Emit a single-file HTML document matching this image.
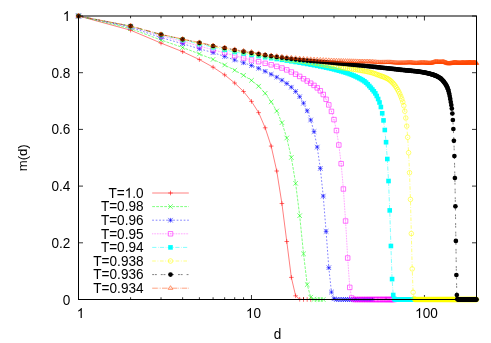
<!DOCTYPE html>
<html><head><meta charset="utf-8"><title>m(d)</title>
<style>html,body{margin:0;padding:0;background:#fff}body{width:491px;height:343px;overflow:hidden}</style>
</head><body>
<svg width="491" height="343" viewBox="0 0 491 343" style="display:block;will-change:transform;font-family:'Liberation Sans',sans-serif;font-size:13.6px">
<rect width="491" height="343" fill="#fff"/>
<g transform="matrix(1 0 0 1.09 0 -27.406)"><text x="62.74" y="304.51">0</text></g>
<g transform="matrix(1 0 0 1.09 0 -22.303)"><text x="51.40" y="247.81">0.2</text></g>
<g transform="matrix(1 0 0 1.09 0 -17.200)"><text x="51.40" y="191.11">0.4</text></g>
<g transform="matrix(1 0 0 1.09 0 -12.097)"><text x="51.40" y="134.41">0.6</text></g>
<g transform="matrix(1 0 0 1.09 0 -6.994)"><text x="51.40" y="77.71">0.8</text></g>
<g transform="matrix(1 0 0 1.09 0 -1.891)"><path d="M67.81 21.01L66.61 21.01L66.61 13.81Q66.18 14.20 65.48 14.59Q64.78 14.98 64.22 15.17L64.22 14.08Q65.22 13.63 65.97 13.00Q66.72 12.37 67.03 11.77L67.81 11.77z" fill="#000"/></g>
<g transform="matrix(1 0 0 1.09 0 -28.620)"><path d="M81.79 318.00L80.59 318.00L80.59 310.80Q80.16 311.19 79.46 311.58Q78.76 311.97 78.20 312.16L78.20 311.07Q79.20 310.63 79.95 309.99Q80.70 309.36 81.02 308.76L81.79 308.76z" fill="#000"/></g>
<g transform="matrix(1 0 0 1.09 0 -28.620)"><path d="M250.97 318.00L249.78 318.00L249.78 310.80Q249.34 311.19 248.64 311.58Q247.94 311.97 247.39 312.16L247.39 311.07Q248.39 310.63 249.14 309.99Q249.89 309.36 250.20 308.76L250.97 308.76z" fill="#000"/><text x="253.47" y="318.00">0</text></g>
<g transform="matrix(1 0 0 1.09 0 -28.620)"><path d="M420.16 318.00L418.96 318.00L418.96 310.80Q418.53 311.19 417.83 311.58Q417.13 311.97 416.57 312.16L416.57 311.07Q417.57 310.63 418.32 309.99Q419.07 309.36 419.39 308.76L420.16 308.76z" fill="#000"/><text x="422.65" y="318.00">00</text></g>
<g transform="matrix(1 0 0 1.09 0 -30.537)"><text x="273.72" y="339.30">d</text></g>
<text transform="translate(27.0 157.75) rotate(-90) scale(0.965 1.0)" text-anchor="middle">m(d)</text>
<path d="M78.5 299.50h4.5M476.5 299.50h-4.5M78.5 242.80h4.5M476.5 242.80h-4.5M78.5 186.10h4.5M476.5 186.10h-4.5M78.5 129.40h4.5M476.5 129.40h-4.5M78.5 72.70h4.5M476.5 72.70h-4.5M78.5 16.00h4.5M476.5 16.00h-4.5M78.50 299.5v-4.5M78.50 16.0v4.5M130.57 299.5v-2.25M130.57 16.0v2.25M161.03 299.5v-2.25M161.03 16.0v2.25M182.64 299.5v-2.25M182.64 16.0v2.25M199.40 299.5v-2.25M199.40 16.0v2.25M213.09 299.5v-2.25M213.09 16.0v2.25M224.67 299.5v-2.25M224.67 16.0v2.25M234.70 299.5v-2.25M234.70 16.0v2.25M243.55 299.5v-2.25M243.55 16.0v2.25M251.47 299.5v-4.5M251.47 16.0v4.5M303.53 299.5v-2.25M303.53 16.0v2.25M333.99 299.5v-2.25M333.99 16.0v2.25M355.60 299.5v-2.25M355.60 16.0v2.25M372.36 299.5v-2.25M372.36 16.0v2.25M386.06 299.5v-2.25M386.06 16.0v2.25M397.64 299.5v-2.25M397.64 16.0v2.25M407.67 299.5v-2.25M407.67 16.0v2.25M416.52 299.5v-2.25M416.52 16.0v2.25M424.43 299.5v-4.5M424.43 16.0v4.5M476.50 299.5v-2.25M476.50 16.0v2.25" stroke="#000" stroke-width="0.8" fill="none"/>
<g>
<path d="M78.50 16.00L130.57 30.20L161.03 43.10L182.64 51.70L199.40 59.60L213.09 67.20L224.67 74.90L234.70 83.00L243.55 91.50L251.47 101.40L258.63 112.60L265.16 127.80L271.17 146.10L276.74 171.00L281.92 203.50L286.77 241.50L291.33 277.40L295.62 295.80L299.68 299.30L303.53 299.50L307.20 299.50L310.69 299.50" stroke="#ff0000" stroke-width="0.5" fill="none"/>
<path d="M152.2 193.00H188.8" stroke="#ff0000" stroke-width="0.5" fill="none"/>
<path d="M76.20 16.00H80.80M78.50 13.70V18.30" stroke="#ff0000" stroke-width="0.55" fill="none"/>
<path d="M128.27 30.20H132.87M130.57 27.90V32.50" stroke="#ff0000" stroke-width="0.55" fill="none"/>
<path d="M158.73 43.10H163.33M161.03 40.80V45.40" stroke="#ff0000" stroke-width="0.55" fill="none"/>
<path d="M180.34 51.70H184.94M182.64 49.40V54.00" stroke="#ff0000" stroke-width="0.55" fill="none"/>
<path d="M197.10 59.60H201.70M199.40 57.30V61.90" stroke="#ff0000" stroke-width="0.55" fill="none"/>
<path d="M210.79 67.20H215.39M213.09 64.90V69.50" stroke="#ff0000" stroke-width="0.55" fill="none"/>
<path d="M222.37 74.90H226.97M224.67 72.60V77.20" stroke="#ff0000" stroke-width="0.55" fill="none"/>
<path d="M232.40 83.00H237.00M234.70 80.70V85.30" stroke="#ff0000" stroke-width="0.55" fill="none"/>
<path d="M241.25 91.50H245.85M243.55 89.20V93.80" stroke="#ff0000" stroke-width="0.55" fill="none"/>
<path d="M249.17 101.40H253.77M251.47 99.10V103.70" stroke="#ff0000" stroke-width="0.55" fill="none"/>
<path d="M256.33 112.60H260.93M258.63 110.30V114.90" stroke="#ff0000" stroke-width="0.55" fill="none"/>
<path d="M262.86 127.80H267.46M265.16 125.50V130.10" stroke="#ff0000" stroke-width="0.55" fill="none"/>
<path d="M268.87 146.10H273.47M271.17 143.80V148.40" stroke="#ff0000" stroke-width="0.55" fill="none"/>
<path d="M274.44 171.00H279.04M276.74 168.70V173.30" stroke="#ff0000" stroke-width="0.55" fill="none"/>
<path d="M279.62 203.50H284.22M281.92 201.20V205.80" stroke="#ff0000" stroke-width="0.55" fill="none"/>
<path d="M284.47 241.50H289.07M286.77 239.20V243.80" stroke="#ff0000" stroke-width="0.55" fill="none"/>
<path d="M289.03 277.40H293.63M291.33 275.10V279.70" stroke="#ff0000" stroke-width="0.55" fill="none"/>
<path d="M293.32 295.80H297.92M295.62 293.50V298.10" stroke="#ff0000" stroke-width="0.55" fill="none"/>
<path d="M297.38 299.30H301.98M299.68 297.00V301.60" stroke="#ff0000" stroke-width="0.55" fill="none"/>
<path d="M301.23 299.50H305.83M303.53 297.20V301.80" stroke="#ff0000" stroke-width="0.55" fill="none"/>
<path d="M304.90 299.50H309.50M307.20 297.20V301.80" stroke="#ff0000" stroke-width="0.55" fill="none"/>
<path d="M308.39 299.50H312.99M310.69 297.20V301.80" stroke="#ff0000" stroke-width="0.55" fill="none"/>
<path d="M168.20 193.00H172.80M170.50 190.70V195.30" stroke="#ff0000" stroke-width="0.55" fill="none"/>
<g transform="matrix(1 0 0 1.09 0 -17.803)"><text x="108.44" y="197.81">T=</text><path d="M129.76 197.81L128.57 197.81L128.57 190.61Q128.14 191.00 127.44 191.39Q126.73 191.78 126.18 191.97L126.18 190.88Q127.18 190.43 127.93 189.80Q128.68 189.17 128.99 188.57L129.76 188.57z" fill="#000"/><text x="132.26" y="197.81">.0</text></g>
</g>
<g>
<path d="M78.50 16.00L130.57 28.60L161.03 40.00L182.64 47.50L199.40 53.90L213.09 59.40L224.67 65.00L234.70 70.20L243.55 75.30L251.47 80.40L258.63 86.20L265.16 93.30L271.17 101.80L276.74 111.00L281.92 122.70L286.77 138.00L291.33 157.50L295.62 183.30L299.68 215.70L303.53 253.80L307.20 284.60L310.69 297.20L314.03 299.40L317.23 299.50L320.30 299.50L323.24 299.50" stroke="#00ff00" stroke-width="0.5" fill="none" stroke-dasharray="2.8 1.2"/>
<path d="M152.2 206.60H188.8" stroke="#00ff00" stroke-width="0.5" fill="none" stroke-dasharray="2.8 1.2"/>
<path d="M76.20 13.70L80.80 18.30M76.20 18.30L80.80 13.70" stroke="#00ff00" stroke-width="0.55" fill="none"/>
<path d="M128.27 26.30L132.87 30.90M128.27 30.90L132.87 26.30" stroke="#00ff00" stroke-width="0.55" fill="none"/>
<path d="M158.73 37.70L163.33 42.30M158.73 42.30L163.33 37.70" stroke="#00ff00" stroke-width="0.55" fill="none"/>
<path d="M180.34 45.20L184.94 49.80M180.34 49.80L184.94 45.20" stroke="#00ff00" stroke-width="0.55" fill="none"/>
<path d="M197.10 51.60L201.70 56.20M197.10 56.20L201.70 51.60" stroke="#00ff00" stroke-width="0.55" fill="none"/>
<path d="M210.79 57.10L215.39 61.70M210.79 61.70L215.39 57.10" stroke="#00ff00" stroke-width="0.55" fill="none"/>
<path d="M222.37 62.70L226.97 67.30M222.37 67.30L226.97 62.70" stroke="#00ff00" stroke-width="0.55" fill="none"/>
<path d="M232.40 67.90L237.00 72.50M232.40 72.50L237.00 67.90" stroke="#00ff00" stroke-width="0.55" fill="none"/>
<path d="M241.25 73.00L245.85 77.60M241.25 77.60L245.85 73.00" stroke="#00ff00" stroke-width="0.55" fill="none"/>
<path d="M249.17 78.10L253.77 82.70M249.17 82.70L253.77 78.10" stroke="#00ff00" stroke-width="0.55" fill="none"/>
<path d="M256.33 83.90L260.93 88.50M256.33 88.50L260.93 83.90" stroke="#00ff00" stroke-width="0.55" fill="none"/>
<path d="M262.86 91.00L267.46 95.60M262.86 95.60L267.46 91.00" stroke="#00ff00" stroke-width="0.55" fill="none"/>
<path d="M268.87 99.50L273.47 104.10M268.87 104.10L273.47 99.50" stroke="#00ff00" stroke-width="0.55" fill="none"/>
<path d="M274.44 108.70L279.04 113.30M274.44 113.30L279.04 108.70" stroke="#00ff00" stroke-width="0.55" fill="none"/>
<path d="M279.62 120.40L284.22 125.00M279.62 125.00L284.22 120.40" stroke="#00ff00" stroke-width="0.55" fill="none"/>
<path d="M284.47 135.70L289.07 140.30M284.47 140.30L289.07 135.70" stroke="#00ff00" stroke-width="0.55" fill="none"/>
<path d="M289.03 155.20L293.63 159.80M289.03 159.80L293.63 155.20" stroke="#00ff00" stroke-width="0.55" fill="none"/>
<path d="M293.32 181.00L297.92 185.60M293.32 185.60L297.92 181.00" stroke="#00ff00" stroke-width="0.55" fill="none"/>
<path d="M297.38 213.40L301.98 218.00M297.38 218.00L301.98 213.40" stroke="#00ff00" stroke-width="0.55" fill="none"/>
<path d="M301.23 251.50L305.83 256.10M301.23 256.10L305.83 251.50" stroke="#00ff00" stroke-width="0.55" fill="none"/>
<path d="M304.90 282.30L309.50 286.90M304.90 286.90L309.50 282.30" stroke="#00ff00" stroke-width="0.55" fill="none"/>
<path d="M308.39 294.90L312.99 299.50M308.39 299.50L312.99 294.90" stroke="#00ff00" stroke-width="0.55" fill="none"/>
<path d="M311.73 297.10L316.33 301.70M311.73 301.70L316.33 297.10" stroke="#00ff00" stroke-width="0.55" fill="none"/>
<path d="M314.93 297.20L319.53 301.80M314.93 301.80L319.53 297.20" stroke="#00ff00" stroke-width="0.55" fill="none"/>
<path d="M318.00 297.20L322.60 301.80M318.00 301.80L322.60 297.20" stroke="#00ff00" stroke-width="0.55" fill="none"/>
<path d="M320.94 297.20L325.54 301.80M320.94 301.80L325.54 297.20" stroke="#00ff00" stroke-width="0.55" fill="none"/>
<path d="M168.20 204.30L172.80 208.90M168.20 208.90L172.80 204.30" stroke="#00ff00" stroke-width="0.55" fill="none"/>
<g transform="matrix(1 0 0 1.09 0 -19.027)"><text x="100.88" y="211.41">T=0.98</text></g>
</g>
<g>
<path d="M78.50 16.00L130.57 27.30L161.03 37.60L182.64 43.70L199.40 48.80L213.09 52.60L224.67 56.50L234.70 60.00L243.55 62.80L251.47 65.50L258.63 68.30L265.16 71.30L271.17 74.30L276.74 77.20L281.92 80.20L286.77 83.50L291.33 87.20L295.62 91.50L299.68 96.70L303.53 103.20L307.20 110.80L310.69 120.00L314.03 131.60L317.23 147.10L320.30 168.40L323.24 196.10L326.08 231.40L328.81 267.70L331.45 292.10L333.99 298.80L336.45 299.50L338.84 299.50L341.15 299.50L343.39 299.50L345.57 299.50L347.69 299.50L349.75 299.50L351.75 299.50L353.70 299.50L355.60 299.50L357.46 299.50L359.27 299.50L361.03 299.50L362.76 299.50L364.45 299.50L366.10 299.50L367.72 299.50L369.30 299.50L370.85 299.50L372.36 299.50" stroke="#0000ff" stroke-width="0.5" fill="none" stroke-dasharray="1.7 1.8"/>
<path d="M152.2 220.20H188.8" stroke="#0000ff" stroke-width="0.5" fill="none" stroke-dasharray="1.7 1.8"/>
<path d="M76.20 16.00H80.80M78.50 13.70V18.30M76.20 13.70L80.80 18.30M76.20 18.30L80.80 13.70" stroke="#0000ff" stroke-width="0.55" fill="none"/>
<path d="M128.27 27.30H132.87M130.57 25.00V29.60M128.27 25.00L132.87 29.60M128.27 29.60L132.87 25.00" stroke="#0000ff" stroke-width="0.55" fill="none"/>
<path d="M158.73 37.60H163.33M161.03 35.30V39.90M158.73 35.30L163.33 39.90M158.73 39.90L163.33 35.30" stroke="#0000ff" stroke-width="0.55" fill="none"/>
<path d="M180.34 43.70H184.94M182.64 41.40V46.00M180.34 41.40L184.94 46.00M180.34 46.00L184.94 41.40" stroke="#0000ff" stroke-width="0.55" fill="none"/>
<path d="M197.10 48.80H201.70M199.40 46.50V51.10M197.10 46.50L201.70 51.10M197.10 51.10L201.70 46.50" stroke="#0000ff" stroke-width="0.55" fill="none"/>
<path d="M210.79 52.60H215.39M213.09 50.30V54.90M210.79 50.30L215.39 54.90M210.79 54.90L215.39 50.30" stroke="#0000ff" stroke-width="0.55" fill="none"/>
<path d="M222.37 56.50H226.97M224.67 54.20V58.80M222.37 54.20L226.97 58.80M222.37 58.80L226.97 54.20" stroke="#0000ff" stroke-width="0.55" fill="none"/>
<path d="M232.40 60.00H237.00M234.70 57.70V62.30M232.40 57.70L237.00 62.30M232.40 62.30L237.00 57.70" stroke="#0000ff" stroke-width="0.55" fill="none"/>
<path d="M241.25 62.80H245.85M243.55 60.50V65.10M241.25 60.50L245.85 65.10M241.25 65.10L245.85 60.50" stroke="#0000ff" stroke-width="0.55" fill="none"/>
<path d="M249.17 65.50H253.77M251.47 63.20V67.80M249.17 63.20L253.77 67.80M249.17 67.80L253.77 63.20" stroke="#0000ff" stroke-width="0.55" fill="none"/>
<path d="M256.33 68.30H260.93M258.63 66.00V70.60M256.33 66.00L260.93 70.60M256.33 70.60L260.93 66.00" stroke="#0000ff" stroke-width="0.55" fill="none"/>
<path d="M262.86 71.30H267.46M265.16 69.00V73.60M262.86 69.00L267.46 73.60M262.86 73.60L267.46 69.00" stroke="#0000ff" stroke-width="0.55" fill="none"/>
<path d="M268.87 74.30H273.47M271.17 72.00V76.60M268.87 72.00L273.47 76.60M268.87 76.60L273.47 72.00" stroke="#0000ff" stroke-width="0.55" fill="none"/>
<path d="M274.44 77.20H279.04M276.74 74.90V79.50M274.44 74.90L279.04 79.50M274.44 79.50L279.04 74.90" stroke="#0000ff" stroke-width="0.55" fill="none"/>
<path d="M279.62 80.20H284.22M281.92 77.90V82.50M279.62 77.90L284.22 82.50M279.62 82.50L284.22 77.90" stroke="#0000ff" stroke-width="0.55" fill="none"/>
<path d="M284.47 83.50H289.07M286.77 81.20V85.80M284.47 81.20L289.07 85.80M284.47 85.80L289.07 81.20" stroke="#0000ff" stroke-width="0.55" fill="none"/>
<path d="M289.03 87.20H293.63M291.33 84.90V89.50M289.03 84.90L293.63 89.50M289.03 89.50L293.63 84.90" stroke="#0000ff" stroke-width="0.55" fill="none"/>
<path d="M293.32 91.50H297.92M295.62 89.20V93.80M293.32 89.20L297.92 93.80M293.32 93.80L297.92 89.20" stroke="#0000ff" stroke-width="0.55" fill="none"/>
<path d="M297.38 96.70H301.98M299.68 94.40V99.00M297.38 94.40L301.98 99.00M297.38 99.00L301.98 94.40" stroke="#0000ff" stroke-width="0.55" fill="none"/>
<path d="M301.23 103.20H305.83M303.53 100.90V105.50M301.23 100.90L305.83 105.50M301.23 105.50L305.83 100.90" stroke="#0000ff" stroke-width="0.55" fill="none"/>
<path d="M304.90 110.80H309.50M307.20 108.50V113.10M304.90 108.50L309.50 113.10M304.90 113.10L309.50 108.50" stroke="#0000ff" stroke-width="0.55" fill="none"/>
<path d="M308.39 120.00H312.99M310.69 117.70V122.30M308.39 117.70L312.99 122.30M308.39 122.30L312.99 117.70" stroke="#0000ff" stroke-width="0.55" fill="none"/>
<path d="M311.73 131.60H316.33M314.03 129.30V133.90M311.73 129.30L316.33 133.90M311.73 133.90L316.33 129.30" stroke="#0000ff" stroke-width="0.55" fill="none"/>
<path d="M314.93 147.10H319.53M317.23 144.80V149.40M314.93 144.80L319.53 149.40M314.93 149.40L319.53 144.80" stroke="#0000ff" stroke-width="0.55" fill="none"/>
<path d="M318.00 168.40H322.60M320.30 166.10V170.70M318.00 166.10L322.60 170.70M318.00 170.70L322.60 166.10" stroke="#0000ff" stroke-width="0.55" fill="none"/>
<path d="M320.94 196.10H325.54M323.24 193.80V198.40M320.94 193.80L325.54 198.40M320.94 198.40L325.54 193.80" stroke="#0000ff" stroke-width="0.55" fill="none"/>
<path d="M323.78 231.40H328.38M326.08 229.10V233.70M323.78 229.10L328.38 233.70M323.78 233.70L328.38 229.10" stroke="#0000ff" stroke-width="0.55" fill="none"/>
<path d="M326.51 267.70H331.11M328.81 265.40V270.00M326.51 265.40L331.11 270.00M326.51 270.00L331.11 265.40" stroke="#0000ff" stroke-width="0.55" fill="none"/>
<path d="M329.15 292.10H333.75M331.45 289.80V294.40M329.15 289.80L333.75 294.40M329.15 294.40L333.75 289.80" stroke="#0000ff" stroke-width="0.55" fill="none"/>
<path d="M331.69 298.80H336.29M333.99 296.50V301.10M331.69 296.50L336.29 301.10M331.69 301.10L336.29 296.50" stroke="#0000ff" stroke-width="0.55" fill="none"/>
<path d="M334.15 299.50H338.75M336.45 297.20V301.80M334.15 297.20L338.75 301.80M334.15 301.80L338.75 297.20" stroke="#0000ff" stroke-width="0.55" fill="none"/>
<path d="M336.54 299.50H341.14M338.84 297.20V301.80M336.54 297.20L341.14 301.80M336.54 301.80L341.14 297.20" stroke="#0000ff" stroke-width="0.55" fill="none"/>
<path d="M338.85 299.50H343.45M341.15 297.20V301.80M338.85 297.20L343.45 301.80M338.85 301.80L343.45 297.20" stroke="#0000ff" stroke-width="0.55" fill="none"/>
<path d="M341.09 299.50H345.69M343.39 297.20V301.80M341.09 297.20L345.69 301.80M341.09 301.80L345.69 297.20" stroke="#0000ff" stroke-width="0.55" fill="none"/>
<path d="M343.27 299.50H347.87M345.57 297.20V301.80M343.27 297.20L347.87 301.80M343.27 301.80L347.87 297.20" stroke="#0000ff" stroke-width="0.55" fill="none"/>
<path d="M345.39 299.50H349.99M347.69 297.20V301.80M345.39 297.20L349.99 301.80M345.39 301.80L349.99 297.20" stroke="#0000ff" stroke-width="0.55" fill="none"/>
<path d="M347.45 299.50H352.05M349.75 297.20V301.80M347.45 297.20L352.05 301.80M347.45 301.80L352.05 297.20" stroke="#0000ff" stroke-width="0.55" fill="none"/>
<path d="M349.45 299.50H354.05M351.75 297.20V301.80M349.45 297.20L354.05 301.80M349.45 301.80L354.05 297.20" stroke="#0000ff" stroke-width="0.55" fill="none"/>
<path d="M351.40 299.50H356.00M353.70 297.20V301.80M351.40 297.20L356.00 301.80M351.40 301.80L356.00 297.20" stroke="#0000ff" stroke-width="0.55" fill="none"/>
<path d="M353.30 299.50H357.90M355.60 297.20V301.80M353.30 297.20L357.90 301.80M353.30 301.80L357.90 297.20" stroke="#0000ff" stroke-width="0.55" fill="none"/>
<path d="M355.16 299.50H359.76M357.46 297.20V301.80M355.16 297.20L359.76 301.80M355.16 301.80L359.76 297.20" stroke="#0000ff" stroke-width="0.55" fill="none"/>
<path d="M356.97 299.50H361.57M359.27 297.20V301.80M356.97 297.20L361.57 301.80M356.97 301.80L361.57 297.20" stroke="#0000ff" stroke-width="0.55" fill="none"/>
<path d="M358.73 299.50H363.33M361.03 297.20V301.80M358.73 297.20L363.33 301.80M358.73 301.80L363.33 297.20" stroke="#0000ff" stroke-width="0.55" fill="none"/>
<path d="M360.46 299.50H365.06M362.76 297.20V301.80M360.46 297.20L365.06 301.80M360.46 301.80L365.06 297.20" stroke="#0000ff" stroke-width="0.55" fill="none"/>
<path d="M362.15 299.50H366.75M364.45 297.20V301.80M362.15 297.20L366.75 301.80M362.15 301.80L366.75 297.20" stroke="#0000ff" stroke-width="0.55" fill="none"/>
<path d="M363.80 299.50H368.40M366.10 297.20V301.80M363.80 297.20L368.40 301.80M363.80 301.80L368.40 297.20" stroke="#0000ff" stroke-width="0.55" fill="none"/>
<path d="M365.42 299.50H370.02M367.72 297.20V301.80M365.42 297.20L370.02 301.80M365.42 301.80L370.02 297.20" stroke="#0000ff" stroke-width="0.55" fill="none"/>
<path d="M367.00 299.50H371.60M369.30 297.20V301.80M367.00 297.20L371.60 301.80M367.00 301.80L371.60 297.20" stroke="#0000ff" stroke-width="0.55" fill="none"/>
<path d="M368.55 299.50H373.15M370.85 297.20V301.80M368.55 297.20L373.15 301.80M368.55 301.80L373.15 297.20" stroke="#0000ff" stroke-width="0.55" fill="none"/>
<path d="M370.06 299.50H374.66M372.36 297.20V301.80M370.06 297.20L374.66 301.80M370.06 301.80L374.66 297.20" stroke="#0000ff" stroke-width="0.55" fill="none"/>
<path d="M168.20 220.20H172.80M170.50 217.90V222.50M168.20 217.90L172.80 222.50M168.20 222.50L172.80 217.90" stroke="#0000ff" stroke-width="0.55" fill="none"/>
<g transform="matrix(1 0 0 1.09 0 -20.251)"><text x="100.88" y="225.01">T=0.96</text></g>
</g>
<g>
<path d="M78.50 16.00L130.57 26.50L161.03 35.80L182.64 41.50L199.40 46.00L213.09 49.80L224.67 52.90L234.70 55.70L243.55 58.00L251.47 60.00L258.63 61.70L265.16 63.30L271.17 64.80L276.74 66.40L281.92 68.00L286.77 69.90L291.33 72.00L295.62 74.20L299.68 76.40L303.53 78.80L307.20 81.00L310.69 83.20L314.03 85.40L317.23 87.90L320.30 90.80L323.24 94.50L326.08 99.30L328.81 104.90L331.45 111.40L333.99 119.60L336.45 130.50L338.84 145.00L341.15 163.70L343.39 189.00L345.57 221.00L347.69 258.00L349.75 287.40L351.75 298.00L353.70 299.50L355.60 299.50L357.46 299.50L359.27 299.50L361.03 299.50L362.76 299.50L364.45 299.50L366.10 299.50L367.72 299.50L369.30 299.50L370.85 299.50L372.36 299.50L373.85 299.50L375.31 299.50L376.74 299.50L378.15 299.50L379.52 299.50L380.88 299.50L382.21 299.50L383.51 299.50L384.80 299.50L386.06 299.50L387.30 299.50L388.52 299.50L389.72 299.50L390.91 299.50L392.07 299.50L393.22 299.50L394.35 299.50" stroke="#ff00ff" stroke-width="0.5" fill="none" stroke-dasharray="0.7 0.9"/>
<path d="M152.2 233.80H188.8" stroke="#ff00ff" stroke-width="0.5" fill="none" stroke-dasharray="0.7 0.9"/>
<path d="M76.25 13.75h4.50v4.50h-4.50zM78.20 16.00h0.6" stroke="#ff00ff" stroke-width="0.55" fill="none"/>
<path d="M128.32 24.25h4.50v4.50h-4.50zM130.27 26.50h0.6" stroke="#ff00ff" stroke-width="0.55" fill="none"/>
<path d="M158.78 33.55h4.50v4.50h-4.50zM160.73 35.80h0.6" stroke="#ff00ff" stroke-width="0.55" fill="none"/>
<path d="M180.39 39.25h4.50v4.50h-4.50zM182.34 41.50h0.6" stroke="#ff00ff" stroke-width="0.55" fill="none"/>
<path d="M197.15 43.75h4.50v4.50h-4.50zM199.10 46.00h0.6" stroke="#ff00ff" stroke-width="0.55" fill="none"/>
<path d="M210.84 47.55h4.50v4.50h-4.50zM212.79 49.80h0.6" stroke="#ff00ff" stroke-width="0.55" fill="none"/>
<path d="M222.42 50.65h4.50v4.50h-4.50zM224.37 52.90h0.6" stroke="#ff00ff" stroke-width="0.55" fill="none"/>
<path d="M232.45 53.45h4.50v4.50h-4.50zM234.40 55.70h0.6" stroke="#ff00ff" stroke-width="0.55" fill="none"/>
<path d="M241.30 55.75h4.50v4.50h-4.50zM243.25 58.00h0.6" stroke="#ff00ff" stroke-width="0.55" fill="none"/>
<path d="M249.22 57.75h4.50v4.50h-4.50zM251.17 60.00h0.6" stroke="#ff00ff" stroke-width="0.55" fill="none"/>
<path d="M256.38 59.45h4.50v4.50h-4.50zM258.33 61.70h0.6" stroke="#ff00ff" stroke-width="0.55" fill="none"/>
<path d="M262.91 61.05h4.50v4.50h-4.50zM264.86 63.30h0.6" stroke="#ff00ff" stroke-width="0.55" fill="none"/>
<path d="M268.92 62.55h4.50v4.50h-4.50zM270.87 64.80h0.6" stroke="#ff00ff" stroke-width="0.55" fill="none"/>
<path d="M274.49 64.15h4.50v4.50h-4.50zM276.44 66.40h0.6" stroke="#ff00ff" stroke-width="0.55" fill="none"/>
<path d="M279.67 65.75h4.50v4.50h-4.50zM281.62 68.00h0.6" stroke="#ff00ff" stroke-width="0.55" fill="none"/>
<path d="M284.52 67.65h4.50v4.50h-4.50zM286.47 69.90h0.6" stroke="#ff00ff" stroke-width="0.55" fill="none"/>
<path d="M289.08 69.75h4.50v4.50h-4.50zM291.03 72.00h0.6" stroke="#ff00ff" stroke-width="0.55" fill="none"/>
<path d="M293.37 71.95h4.50v4.50h-4.50zM295.32 74.20h0.6" stroke="#ff00ff" stroke-width="0.55" fill="none"/>
<path d="M297.43 74.15h4.50v4.50h-4.50zM299.38 76.40h0.6" stroke="#ff00ff" stroke-width="0.55" fill="none"/>
<path d="M301.28 76.55h4.50v4.50h-4.50zM303.23 78.80h0.6" stroke="#ff00ff" stroke-width="0.55" fill="none"/>
<path d="M304.95 78.75h4.50v4.50h-4.50zM306.90 81.00h0.6" stroke="#ff00ff" stroke-width="0.55" fill="none"/>
<path d="M308.44 80.95h4.50v4.50h-4.50zM310.39 83.20h0.6" stroke="#ff00ff" stroke-width="0.55" fill="none"/>
<path d="M311.78 83.15h4.50v4.50h-4.50zM313.73 85.40h0.6" stroke="#ff00ff" stroke-width="0.55" fill="none"/>
<path d="M314.98 85.65h4.50v4.50h-4.50zM316.93 87.90h0.6" stroke="#ff00ff" stroke-width="0.55" fill="none"/>
<path d="M318.05 88.55h4.50v4.50h-4.50zM320.00 90.80h0.6" stroke="#ff00ff" stroke-width="0.55" fill="none"/>
<path d="M320.99 92.25h4.50v4.50h-4.50zM322.94 94.50h0.6" stroke="#ff00ff" stroke-width="0.55" fill="none"/>
<path d="M323.83 97.05h4.50v4.50h-4.50zM325.78 99.30h0.6" stroke="#ff00ff" stroke-width="0.55" fill="none"/>
<path d="M326.56 102.65h4.50v4.50h-4.50zM328.51 104.90h0.6" stroke="#ff00ff" stroke-width="0.55" fill="none"/>
<path d="M329.20 109.15h4.50v4.50h-4.50zM331.15 111.40h0.6" stroke="#ff00ff" stroke-width="0.55" fill="none"/>
<path d="M331.74 117.35h4.50v4.50h-4.50zM333.69 119.60h0.6" stroke="#ff00ff" stroke-width="0.55" fill="none"/>
<path d="M334.20 128.25h4.50v4.50h-4.50zM336.15 130.50h0.6" stroke="#ff00ff" stroke-width="0.55" fill="none"/>
<path d="M336.59 142.75h4.50v4.50h-4.50zM338.54 145.00h0.6" stroke="#ff00ff" stroke-width="0.55" fill="none"/>
<path d="M338.90 161.45h4.50v4.50h-4.50zM340.85 163.70h0.6" stroke="#ff00ff" stroke-width="0.55" fill="none"/>
<path d="M341.14 186.75h4.50v4.50h-4.50zM343.09 189.00h0.6" stroke="#ff00ff" stroke-width="0.55" fill="none"/>
<path d="M343.32 218.75h4.50v4.50h-4.50zM345.27 221.00h0.6" stroke="#ff00ff" stroke-width="0.55" fill="none"/>
<path d="M345.44 255.75h4.50v4.50h-4.50zM347.39 258.00h0.6" stroke="#ff00ff" stroke-width="0.55" fill="none"/>
<path d="M347.50 285.15h4.50v4.50h-4.50zM349.45 287.40h0.6" stroke="#ff00ff" stroke-width="0.55" fill="none"/>
<path d="M349.50 295.75h4.50v4.50h-4.50zM351.45 298.00h0.6" stroke="#ff00ff" stroke-width="0.55" fill="none"/>
<path d="M351.45 297.25h4.50v4.50h-4.50zM353.40 299.50h0.6" stroke="#ff00ff" stroke-width="0.55" fill="none"/>
<path d="M353.35 297.25h4.50v4.50h-4.50zM355.30 299.50h0.6" stroke="#ff00ff" stroke-width="0.55" fill="none"/>
<path d="M355.21 297.25h4.50v4.50h-4.50zM357.16 299.50h0.6" stroke="#ff00ff" stroke-width="0.55" fill="none"/>
<path d="M357.02 297.25h4.50v4.50h-4.50zM358.97 299.50h0.6" stroke="#ff00ff" stroke-width="0.55" fill="none"/>
<path d="M358.78 297.25h4.50v4.50h-4.50zM360.73 299.50h0.6" stroke="#ff00ff" stroke-width="0.55" fill="none"/>
<path d="M360.51 297.25h4.50v4.50h-4.50zM362.46 299.50h0.6" stroke="#ff00ff" stroke-width="0.55" fill="none"/>
<path d="M362.20 297.25h4.50v4.50h-4.50zM364.15 299.50h0.6" stroke="#ff00ff" stroke-width="0.55" fill="none"/>
<path d="M363.85 297.25h4.50v4.50h-4.50zM365.80 299.50h0.6" stroke="#ff00ff" stroke-width="0.55" fill="none"/>
<path d="M365.47 297.25h4.50v4.50h-4.50zM367.42 299.50h0.6" stroke="#ff00ff" stroke-width="0.55" fill="none"/>
<path d="M367.05 297.25h4.50v4.50h-4.50zM369.00 299.50h0.6" stroke="#ff00ff" stroke-width="0.55" fill="none"/>
<path d="M368.60 297.25h4.50v4.50h-4.50zM370.55 299.50h0.6" stroke="#ff00ff" stroke-width="0.55" fill="none"/>
<path d="M370.11 297.25h4.50v4.50h-4.50zM372.06 299.50h0.6" stroke="#ff00ff" stroke-width="0.55" fill="none"/>
<path d="M371.60 297.25h4.50v4.50h-4.50zM373.55 299.50h0.6" stroke="#ff00ff" stroke-width="0.55" fill="none"/>
<path d="M373.06 297.25h4.50v4.50h-4.50zM375.01 299.50h0.6" stroke="#ff00ff" stroke-width="0.55" fill="none"/>
<path d="M374.49 297.25h4.50v4.50h-4.50zM376.44 299.50h0.6" stroke="#ff00ff" stroke-width="0.55" fill="none"/>
<path d="M375.90 297.25h4.50v4.50h-4.50zM377.85 299.50h0.6" stroke="#ff00ff" stroke-width="0.55" fill="none"/>
<path d="M377.27 297.25h4.50v4.50h-4.50zM379.22 299.50h0.6" stroke="#ff00ff" stroke-width="0.55" fill="none"/>
<path d="M378.63 297.25h4.50v4.50h-4.50zM380.58 299.50h0.6" stroke="#ff00ff" stroke-width="0.55" fill="none"/>
<path d="M379.96 297.25h4.50v4.50h-4.50zM381.91 299.50h0.6" stroke="#ff00ff" stroke-width="0.55" fill="none"/>
<path d="M381.26 297.25h4.50v4.50h-4.50zM383.21 299.50h0.6" stroke="#ff00ff" stroke-width="0.55" fill="none"/>
<path d="M382.55 297.25h4.50v4.50h-4.50zM384.50 299.50h0.6" stroke="#ff00ff" stroke-width="0.55" fill="none"/>
<path d="M383.81 297.25h4.50v4.50h-4.50zM385.76 299.50h0.6" stroke="#ff00ff" stroke-width="0.55" fill="none"/>
<path d="M385.05 297.25h4.50v4.50h-4.50zM387.00 299.50h0.6" stroke="#ff00ff" stroke-width="0.55" fill="none"/>
<path d="M386.27 297.25h4.50v4.50h-4.50zM388.22 299.50h0.6" stroke="#ff00ff" stroke-width="0.55" fill="none"/>
<path d="M387.47 297.25h4.50v4.50h-4.50zM389.42 299.50h0.6" stroke="#ff00ff" stroke-width="0.55" fill="none"/>
<path d="M388.66 297.25h4.50v4.50h-4.50zM390.61 299.50h0.6" stroke="#ff00ff" stroke-width="0.55" fill="none"/>
<path d="M389.82 297.25h4.50v4.50h-4.50zM391.77 299.50h0.6" stroke="#ff00ff" stroke-width="0.55" fill="none"/>
<path d="M390.97 297.25h4.50v4.50h-4.50zM392.92 299.50h0.6" stroke="#ff00ff" stroke-width="0.55" fill="none"/>
<path d="M392.10 297.25h4.50v4.50h-4.50zM394.05 299.50h0.6" stroke="#ff00ff" stroke-width="0.55" fill="none"/>
<path d="M168.25 231.55h4.50v4.50h-4.50zM170.20 233.80h0.6" stroke="#ff00ff" stroke-width="0.55" fill="none"/>
<g transform="matrix(1 0 0 1.09 0 -21.475)"><text x="100.88" y="238.61">T=0.95</text></g>
</g>
<g>
<path d="M78.50 16.00L130.57 26.30L161.03 35.00L182.64 40.00L199.40 44.00L213.09 47.30L224.67 49.80L234.70 52.00L243.55 53.50L251.47 54.80L258.63 56.06L265.16 57.20L271.17 58.15L276.74 59.00L281.92 59.80L286.77 60.57L291.33 61.30L295.62 61.99L299.68 62.65L303.53 63.30L307.20 63.94L310.69 64.57L314.03 65.19L317.23 65.80L320.30 66.40L323.24 66.98L326.08 67.57L328.81 68.16L331.45 68.77L333.99 69.39L336.45 70.03L338.84 70.68L341.15 71.32L343.39 71.97L345.57 72.63L347.69 73.31L349.75 74.03L351.75 74.79L353.70 75.59L355.60 76.43L357.46 77.31L359.27 78.23L361.03 79.17L362.76 80.17L364.45 81.30L366.10 82.64L367.72 84.27L369.30 86.01L370.85 87.73L372.36 89.49L373.85 91.31L375.31 93.36L376.74 95.99L378.15 99.00L379.52 102.50L380.88 107.00L382.21 113.30L383.51 120.40L384.80 130.00L386.06 142.20L387.30 159.00L388.52 181.00L389.72 210.40L390.91 246.00L392.07 279.10L393.22 295.00L394.35 299.00L395.46 299.50L396.56 299.50L397.64 299.50L398.70 299.50L399.76 299.50L400.79 299.50L401.81 299.50L402.82 299.50L403.82 299.50L404.80 299.50L405.77 299.50L406.73 299.50L407.67 299.50L408.60 299.50L409.52 299.50L410.44 299.50L411.33 299.50L412.22 299.50L413.10 299.50L413.97 299.50L414.83 299.50L415.68 299.50L416.52 299.50L417.35 299.50L418.17 299.50" stroke="#00ffff" stroke-width="0.5" fill="none" stroke-dasharray="4.2 1.6 0.6 1.3"/>
<path d="M152.2 247.40H188.8" stroke="#00ffff" stroke-width="0.5" fill="none" stroke-dasharray="4.2 1.6 0.6 1.3"/>
<rect x="76.20" y="13.70" width="4.60" height="4.60" fill="#00ffff"/>
<rect x="128.27" y="24.00" width="4.60" height="4.60" fill="#00ffff"/>
<rect x="158.73" y="32.70" width="4.60" height="4.60" fill="#00ffff"/>
<rect x="180.34" y="37.70" width="4.60" height="4.60" fill="#00ffff"/>
<rect x="197.10" y="41.70" width="4.60" height="4.60" fill="#00ffff"/>
<rect x="210.79" y="45.00" width="4.60" height="4.60" fill="#00ffff"/>
<rect x="222.37" y="47.50" width="4.60" height="4.60" fill="#00ffff"/>
<rect x="232.40" y="49.70" width="4.60" height="4.60" fill="#00ffff"/>
<rect x="241.25" y="51.20" width="4.60" height="4.60" fill="#00ffff"/>
<rect x="249.17" y="52.50" width="4.60" height="4.60" fill="#00ffff"/>
<rect x="256.33" y="53.76" width="4.60" height="4.60" fill="#00ffff"/>
<rect x="262.86" y="54.90" width="4.60" height="4.60" fill="#00ffff"/>
<rect x="268.87" y="55.85" width="4.60" height="4.60" fill="#00ffff"/>
<rect x="274.44" y="56.70" width="4.60" height="4.60" fill="#00ffff"/>
<rect x="279.62" y="57.50" width="4.60" height="4.60" fill="#00ffff"/>
<rect x="284.47" y="58.27" width="4.60" height="4.60" fill="#00ffff"/>
<rect x="289.03" y="59.00" width="4.60" height="4.60" fill="#00ffff"/>
<rect x="293.32" y="59.69" width="4.60" height="4.60" fill="#00ffff"/>
<rect x="297.38" y="60.35" width="4.60" height="4.60" fill="#00ffff"/>
<rect x="301.23" y="61.00" width="4.60" height="4.60" fill="#00ffff"/>
<rect x="304.90" y="61.64" width="4.60" height="4.60" fill="#00ffff"/>
<rect x="308.39" y="62.27" width="4.60" height="4.60" fill="#00ffff"/>
<rect x="311.73" y="62.89" width="4.60" height="4.60" fill="#00ffff"/>
<rect x="314.93" y="63.50" width="4.60" height="4.60" fill="#00ffff"/>
<rect x="318.00" y="64.10" width="4.60" height="4.60" fill="#00ffff"/>
<rect x="320.94" y="64.68" width="4.60" height="4.60" fill="#00ffff"/>
<rect x="323.78" y="65.27" width="4.60" height="4.60" fill="#00ffff"/>
<rect x="326.51" y="65.86" width="4.60" height="4.60" fill="#00ffff"/>
<rect x="329.15" y="66.47" width="4.60" height="4.60" fill="#00ffff"/>
<rect x="331.69" y="67.09" width="4.60" height="4.60" fill="#00ffff"/>
<rect x="334.15" y="67.73" width="4.60" height="4.60" fill="#00ffff"/>
<rect x="336.54" y="68.38" width="4.60" height="4.60" fill="#00ffff"/>
<rect x="338.85" y="69.02" width="4.60" height="4.60" fill="#00ffff"/>
<rect x="341.09" y="69.67" width="4.60" height="4.60" fill="#00ffff"/>
<rect x="343.27" y="70.33" width="4.60" height="4.60" fill="#00ffff"/>
<rect x="345.39" y="71.01" width="4.60" height="4.60" fill="#00ffff"/>
<rect x="347.45" y="71.73" width="4.60" height="4.60" fill="#00ffff"/>
<rect x="349.45" y="72.49" width="4.60" height="4.60" fill="#00ffff"/>
<rect x="351.40" y="73.29" width="4.60" height="4.60" fill="#00ffff"/>
<rect x="353.30" y="74.13" width="4.60" height="4.60" fill="#00ffff"/>
<rect x="355.16" y="75.01" width="4.60" height="4.60" fill="#00ffff"/>
<rect x="356.97" y="75.93" width="4.60" height="4.60" fill="#00ffff"/>
<rect x="358.73" y="76.87" width="4.60" height="4.60" fill="#00ffff"/>
<rect x="360.46" y="77.87" width="4.60" height="4.60" fill="#00ffff"/>
<rect x="362.15" y="79.00" width="4.60" height="4.60" fill="#00ffff"/>
<rect x="363.80" y="80.34" width="4.60" height="4.60" fill="#00ffff"/>
<rect x="365.42" y="81.97" width="4.60" height="4.60" fill="#00ffff"/>
<rect x="367.00" y="83.71" width="4.60" height="4.60" fill="#00ffff"/>
<rect x="368.55" y="85.43" width="4.60" height="4.60" fill="#00ffff"/>
<rect x="370.06" y="87.19" width="4.60" height="4.60" fill="#00ffff"/>
<rect x="371.55" y="89.01" width="4.60" height="4.60" fill="#00ffff"/>
<rect x="373.01" y="91.06" width="4.60" height="4.60" fill="#00ffff"/>
<rect x="374.44" y="93.69" width="4.60" height="4.60" fill="#00ffff"/>
<rect x="375.85" y="96.70" width="4.60" height="4.60" fill="#00ffff"/>
<rect x="377.22" y="100.20" width="4.60" height="4.60" fill="#00ffff"/>
<rect x="378.58" y="104.70" width="4.60" height="4.60" fill="#00ffff"/>
<rect x="379.91" y="111.00" width="4.60" height="4.60" fill="#00ffff"/>
<rect x="381.21" y="118.10" width="4.60" height="4.60" fill="#00ffff"/>
<rect x="382.50" y="127.70" width="4.60" height="4.60" fill="#00ffff"/>
<rect x="383.76" y="139.90" width="4.60" height="4.60" fill="#00ffff"/>
<rect x="385.00" y="156.70" width="4.60" height="4.60" fill="#00ffff"/>
<rect x="386.22" y="178.70" width="4.60" height="4.60" fill="#00ffff"/>
<rect x="387.42" y="208.10" width="4.60" height="4.60" fill="#00ffff"/>
<rect x="388.61" y="243.70" width="4.60" height="4.60" fill="#00ffff"/>
<rect x="389.77" y="276.80" width="4.60" height="4.60" fill="#00ffff"/>
<rect x="390.92" y="292.70" width="4.60" height="4.60" fill="#00ffff"/>
<rect x="392.05" y="296.70" width="4.60" height="4.60" fill="#00ffff"/>
<rect x="393.16" y="297.20" width="4.60" height="4.60" fill="#00ffff"/>
<rect x="394.26" y="297.20" width="4.60" height="4.60" fill="#00ffff"/>
<rect x="395.34" y="297.20" width="4.60" height="4.60" fill="#00ffff"/>
<rect x="396.40" y="297.20" width="4.60" height="4.60" fill="#00ffff"/>
<rect x="397.46" y="297.20" width="4.60" height="4.60" fill="#00ffff"/>
<rect x="398.49" y="297.20" width="4.60" height="4.60" fill="#00ffff"/>
<rect x="399.51" y="297.20" width="4.60" height="4.60" fill="#00ffff"/>
<rect x="400.52" y="297.20" width="4.60" height="4.60" fill="#00ffff"/>
<rect x="401.52" y="297.20" width="4.60" height="4.60" fill="#00ffff"/>
<rect x="402.50" y="297.20" width="4.60" height="4.60" fill="#00ffff"/>
<rect x="403.47" y="297.20" width="4.60" height="4.60" fill="#00ffff"/>
<rect x="404.43" y="297.20" width="4.60" height="4.60" fill="#00ffff"/>
<rect x="405.37" y="297.20" width="4.60" height="4.60" fill="#00ffff"/>
<rect x="406.30" y="297.20" width="4.60" height="4.60" fill="#00ffff"/>
<rect x="407.22" y="297.20" width="4.60" height="4.60" fill="#00ffff"/>
<rect x="408.14" y="297.20" width="4.60" height="4.60" fill="#00ffff"/>
<rect x="409.03" y="297.20" width="4.60" height="4.60" fill="#00ffff"/>
<rect x="409.92" y="297.20" width="4.60" height="4.60" fill="#00ffff"/>
<rect x="410.80" y="297.20" width="4.60" height="4.60" fill="#00ffff"/>
<rect x="411.67" y="297.20" width="4.60" height="4.60" fill="#00ffff"/>
<rect x="412.53" y="297.20" width="4.60" height="4.60" fill="#00ffff"/>
<rect x="413.38" y="297.20" width="4.60" height="4.60" fill="#00ffff"/>
<rect x="414.22" y="297.20" width="4.60" height="4.60" fill="#00ffff"/>
<rect x="415.05" y="297.20" width="4.60" height="4.60" fill="#00ffff"/>
<rect x="415.87" y="297.20" width="4.60" height="4.60" fill="#00ffff"/>
<rect x="168.20" y="245.10" width="4.60" height="4.60" fill="#00ffff"/>
<g transform="matrix(1 0 0 1.09 0 -22.699)"><text x="100.88" y="252.21">T=0.94</text></g>
</g>
<g>
<path d="M78.50 16.00L130.57 26.20L161.03 34.70L182.64 39.60L199.40 43.20L213.09 46.50L224.67 48.80L234.70 50.80L243.55 52.40L251.47 53.60L258.63 54.86L265.16 56.00L271.17 56.90L276.74 57.69L281.92 58.50L286.77 59.44L291.33 60.18L295.62 60.66L299.68 61.06L303.53 61.50L307.20 62.01L310.69 62.56L314.03 63.13L317.23 63.69L320.30 64.24L323.24 64.77L326.08 65.26L328.81 65.73L331.45 66.16L333.99 66.57L336.45 66.96L338.84 67.33L341.15 67.66L343.39 67.96L345.57 68.24L347.69 68.51L349.75 68.80L351.75 69.09L353.70 69.37L355.60 69.64L357.46 69.92L359.27 70.19L361.03 70.47L362.76 70.76L364.45 71.06L366.10 71.38L367.72 71.71L369.30 72.06L370.85 72.43L372.36 72.88L373.85 73.37L375.31 73.89L376.74 74.42L378.15 74.95L379.52 75.45L380.88 75.93L382.21 76.39L383.51 76.87L384.80 77.40L386.06 77.98L387.30 78.61L388.52 79.31L389.72 80.10L390.91 81.07L392.07 82.20L393.22 83.38L394.35 84.70L395.46 86.22L396.56 87.90L397.64 89.71L398.70 91.70L399.76 93.94L400.79 96.40L401.81 99.03L402.82 102.00L403.82 105.70L404.80 111.20L405.77 118.00L406.73 126.10L407.67 137.30L408.60 152.70L409.52 172.70L410.44 199.40L411.33 233.60L412.22 268.90L413.10 292.30L413.97 298.50L414.83 299.50L415.68 299.50L416.52 299.50L417.35 299.50L418.17 299.50L418.98 299.50L419.78 299.50L420.58 299.50L421.37 299.50L422.14 299.50L422.91 299.50L423.68 299.50L424.43 299.50L425.18 299.50L425.92 299.50L426.65 299.50L427.38 299.50L428.10 299.50L428.81 299.50L429.51 299.50L430.21 299.50L430.91 299.50L431.59 299.50L432.27 299.50L432.95 299.50L433.61 299.50L434.27 299.50L434.93 299.50L435.58 299.50L436.23 299.50L436.87 299.50L437.50 299.50L438.13 299.50L438.75 299.50L439.37 299.50L439.98 299.50L440.59 299.50L441.19 299.50L441.79 299.50L442.39 299.50L442.98 299.50L443.56 299.50L444.14 299.50L444.72 299.50L445.29 299.50L445.85 299.50L446.42 299.50L446.98 299.50L447.53 299.50L448.08 299.50L448.63 299.50L449.17 299.50L449.71 299.50L450.24 299.50L450.77 299.50L451.30 299.50L451.82 299.50L452.34 299.50L452.86 299.50L453.37 299.50L453.88 299.50L454.39 299.50L454.89 299.50L455.39 299.50L455.88 299.50L456.38 299.50L456.87 299.50L457.35 299.50L457.84 299.50L458.32 299.50L458.79 299.50L459.27 299.50L459.74 299.50L460.21 299.50L460.67 299.50L461.13 299.50L461.59 299.50L462.05 299.50L462.50 299.50L462.95 299.50L463.40 299.50L463.85 299.50L464.29 299.50L464.73 299.50L465.17 299.50L465.61 299.50L466.04 299.50L466.47 299.50L466.90 299.50L467.32 299.50L467.75 299.50L468.17 299.50L468.59 299.50L469.00 299.50L469.42 299.50L469.83 299.50L470.24 299.50L470.64 299.50L471.05 299.50L471.45 299.50L471.85 299.50L472.25 299.50L472.65 299.50L473.04 299.50L473.43 299.50L473.82 299.50L474.21 299.50L474.60 299.50L474.98 299.50L475.36 299.50L475.75 299.50L476.12 299.50L476.50 299.50" stroke="#ffff00" stroke-width="0.5" fill="none" stroke-dasharray="3.6 1.7 0.8 1.7"/>
<path d="M152.2 261.00H188.8" stroke="#ffff00" stroke-width="0.5" fill="none" stroke-dasharray="3.6 1.7 0.8 1.7"/>
<rect x="413.33" y="297.05" width="46.41" height="4.9" fill="#ffff00"/>
<circle cx="78.50" cy="16.00" r="2.3" stroke="#ffff00" stroke-width="0.55" fill="none"/><circle cx="78.50" cy="16.00" r="0.25" fill="#ffff00" fill-opacity="0.7"/>
<circle cx="130.57" cy="26.20" r="2.3" stroke="#ffff00" stroke-width="0.55" fill="none"/><circle cx="130.57" cy="26.20" r="0.25" fill="#ffff00" fill-opacity="0.7"/>
<circle cx="161.03" cy="34.70" r="2.3" stroke="#ffff00" stroke-width="0.55" fill="none"/><circle cx="161.03" cy="34.70" r="0.25" fill="#ffff00" fill-opacity="0.7"/>
<circle cx="182.64" cy="39.60" r="2.3" stroke="#ffff00" stroke-width="0.55" fill="none"/><circle cx="182.64" cy="39.60" r="0.25" fill="#ffff00" fill-opacity="0.7"/>
<circle cx="199.40" cy="43.20" r="2.3" stroke="#ffff00" stroke-width="0.55" fill="none"/><circle cx="199.40" cy="43.20" r="0.25" fill="#ffff00" fill-opacity="0.7"/>
<circle cx="213.09" cy="46.50" r="2.3" stroke="#ffff00" stroke-width="0.55" fill="none"/><circle cx="213.09" cy="46.50" r="0.25" fill="#ffff00" fill-opacity="0.7"/>
<circle cx="224.67" cy="48.80" r="2.3" stroke="#ffff00" stroke-width="0.55" fill="none"/><circle cx="224.67" cy="48.80" r="0.25" fill="#ffff00" fill-opacity="0.7"/>
<circle cx="234.70" cy="50.80" r="2.3" stroke="#ffff00" stroke-width="0.55" fill="none"/><circle cx="234.70" cy="50.80" r="0.25" fill="#ffff00" fill-opacity="0.7"/>
<circle cx="243.55" cy="52.40" r="2.3" stroke="#ffff00" stroke-width="0.55" fill="none"/><circle cx="243.55" cy="52.40" r="0.25" fill="#ffff00" fill-opacity="0.7"/>
<circle cx="251.47" cy="53.60" r="2.3" stroke="#ffff00" stroke-width="0.55" fill="none"/><circle cx="251.47" cy="53.60" r="0.25" fill="#ffff00" fill-opacity="0.7"/>
<circle cx="258.63" cy="54.86" r="2.3" stroke="#ffff00" stroke-width="0.55" fill="none"/><circle cx="258.63" cy="54.86" r="0.25" fill="#ffff00" fill-opacity="0.7"/>
<circle cx="265.16" cy="56.00" r="2.3" stroke="#ffff00" stroke-width="0.55" fill="none"/><circle cx="265.16" cy="56.00" r="0.25" fill="#ffff00" fill-opacity="0.7"/>
<circle cx="271.17" cy="56.90" r="2.3" stroke="#ffff00" stroke-width="0.55" fill="none"/><circle cx="271.17" cy="56.90" r="0.25" fill="#ffff00" fill-opacity="0.7"/>
<circle cx="276.74" cy="57.69" r="2.3" stroke="#ffff00" stroke-width="0.55" fill="none"/><circle cx="276.74" cy="57.69" r="0.25" fill="#ffff00" fill-opacity="0.7"/>
<circle cx="281.92" cy="58.50" r="2.3" stroke="#ffff00" stroke-width="0.55" fill="none"/><circle cx="281.92" cy="58.50" r="0.25" fill="#ffff00" fill-opacity="0.7"/>
<circle cx="286.77" cy="59.44" r="2.3" stroke="#ffff00" stroke-width="0.55" fill="none"/><circle cx="286.77" cy="59.44" r="0.25" fill="#ffff00" fill-opacity="0.7"/>
<circle cx="291.33" cy="60.18" r="2.3" stroke="#ffff00" stroke-width="0.55" fill="none"/><circle cx="291.33" cy="60.18" r="0.25" fill="#ffff00" fill-opacity="0.7"/>
<circle cx="295.62" cy="60.66" r="2.3" stroke="#ffff00" stroke-width="0.55" fill="none"/><circle cx="295.62" cy="60.66" r="0.25" fill="#ffff00" fill-opacity="0.7"/>
<circle cx="299.68" cy="61.06" r="2.3" stroke="#ffff00" stroke-width="0.55" fill="none"/><circle cx="299.68" cy="61.06" r="0.25" fill="#ffff00" fill-opacity="0.7"/>
<circle cx="303.53" cy="61.50" r="2.3" stroke="#ffff00" stroke-width="0.55" fill="none"/><circle cx="303.53" cy="61.50" r="0.25" fill="#ffff00" fill-opacity="0.7"/>
<circle cx="307.20" cy="62.01" r="2.3" stroke="#ffff00" stroke-width="0.55" fill="none"/><circle cx="307.20" cy="62.01" r="0.25" fill="#ffff00" fill-opacity="0.7"/>
<circle cx="310.69" cy="62.56" r="2.3" stroke="#ffff00" stroke-width="0.55" fill="none"/><circle cx="310.69" cy="62.56" r="0.25" fill="#ffff00" fill-opacity="0.7"/>
<circle cx="314.03" cy="63.13" r="2.3" stroke="#ffff00" stroke-width="0.55" fill="none"/><circle cx="314.03" cy="63.13" r="0.25" fill="#ffff00" fill-opacity="0.7"/>
<circle cx="317.23" cy="63.69" r="2.3" stroke="#ffff00" stroke-width="0.55" fill="none"/><circle cx="317.23" cy="63.69" r="0.25" fill="#ffff00" fill-opacity="0.7"/>
<circle cx="320.30" cy="64.24" r="2.3" stroke="#ffff00" stroke-width="0.55" fill="none"/><circle cx="320.30" cy="64.24" r="0.25" fill="#ffff00" fill-opacity="0.7"/>
<circle cx="323.24" cy="64.77" r="2.3" stroke="#ffff00" stroke-width="0.55" fill="none"/><circle cx="323.24" cy="64.77" r="0.25" fill="#ffff00" fill-opacity="0.7"/>
<circle cx="326.08" cy="65.26" r="2.3" stroke="#ffff00" stroke-width="0.55" fill="none"/><circle cx="326.08" cy="65.26" r="0.25" fill="#ffff00" fill-opacity="0.7"/>
<circle cx="328.81" cy="65.73" r="2.3" stroke="#ffff00" stroke-width="0.55" fill="none"/><circle cx="328.81" cy="65.73" r="0.25" fill="#ffff00" fill-opacity="0.7"/>
<circle cx="331.45" cy="66.16" r="2.3" stroke="#ffff00" stroke-width="0.55" fill="none"/><circle cx="331.45" cy="66.16" r="0.25" fill="#ffff00" fill-opacity="0.7"/>
<circle cx="333.99" cy="66.57" r="2.3" stroke="#ffff00" stroke-width="0.55" fill="none"/><circle cx="333.99" cy="66.57" r="0.25" fill="#ffff00" fill-opacity="0.7"/>
<circle cx="336.45" cy="66.96" r="2.3" stroke="#ffff00" stroke-width="0.55" fill="none"/><circle cx="336.45" cy="66.96" r="0.25" fill="#ffff00" fill-opacity="0.7"/>
<circle cx="338.84" cy="67.33" r="2.3" stroke="#ffff00" stroke-width="0.55" fill="none"/><circle cx="338.84" cy="67.33" r="0.25" fill="#ffff00" fill-opacity="0.7"/>
<circle cx="341.15" cy="67.66" r="2.3" stroke="#ffff00" stroke-width="0.55" fill="none"/><circle cx="341.15" cy="67.66" r="0.25" fill="#ffff00" fill-opacity="0.7"/>
<circle cx="343.39" cy="67.96" r="2.3" stroke="#ffff00" stroke-width="0.55" fill="none"/><circle cx="343.39" cy="67.96" r="0.25" fill="#ffff00" fill-opacity="0.7"/>
<circle cx="345.57" cy="68.24" r="2.3" stroke="#ffff00" stroke-width="0.55" fill="none"/><circle cx="345.57" cy="68.24" r="0.25" fill="#ffff00" fill-opacity="0.7"/>
<circle cx="347.69" cy="68.51" r="2.3" stroke="#ffff00" stroke-width="0.55" fill="none"/><circle cx="347.69" cy="68.51" r="0.25" fill="#ffff00" fill-opacity="0.7"/>
<circle cx="349.75" cy="68.80" r="2.3" stroke="#ffff00" stroke-width="0.55" fill="none"/><circle cx="349.75" cy="68.80" r="0.25" fill="#ffff00" fill-opacity="0.7"/>
<circle cx="351.75" cy="69.09" r="2.3" stroke="#ffff00" stroke-width="0.55" fill="none"/><circle cx="351.75" cy="69.09" r="0.25" fill="#ffff00" fill-opacity="0.7"/>
<circle cx="353.70" cy="69.37" r="2.3" stroke="#ffff00" stroke-width="0.55" fill="none"/><circle cx="353.70" cy="69.37" r="0.25" fill="#ffff00" fill-opacity="0.7"/>
<circle cx="355.60" cy="69.64" r="2.3" stroke="#ffff00" stroke-width="0.55" fill="none"/><circle cx="355.60" cy="69.64" r="0.25" fill="#ffff00" fill-opacity="0.7"/>
<circle cx="357.46" cy="69.92" r="2.3" stroke="#ffff00" stroke-width="0.55" fill="none"/><circle cx="357.46" cy="69.92" r="0.25" fill="#ffff00" fill-opacity="0.7"/>
<circle cx="359.27" cy="70.19" r="2.3" stroke="#ffff00" stroke-width="0.55" fill="none"/><circle cx="359.27" cy="70.19" r="0.25" fill="#ffff00" fill-opacity="0.7"/>
<circle cx="361.03" cy="70.47" r="2.3" stroke="#ffff00" stroke-width="0.55" fill="none"/><circle cx="361.03" cy="70.47" r="0.25" fill="#ffff00" fill-opacity="0.7"/>
<circle cx="362.76" cy="70.76" r="2.3" stroke="#ffff00" stroke-width="0.55" fill="none"/><circle cx="362.76" cy="70.76" r="0.25" fill="#ffff00" fill-opacity="0.7"/>
<circle cx="364.45" cy="71.06" r="2.3" stroke="#ffff00" stroke-width="0.55" fill="none"/><circle cx="364.45" cy="71.06" r="0.25" fill="#ffff00" fill-opacity="0.7"/>
<circle cx="366.10" cy="71.38" r="2.3" stroke="#ffff00" stroke-width="0.55" fill="none"/><circle cx="366.10" cy="71.38" r="0.25" fill="#ffff00" fill-opacity="0.7"/>
<circle cx="367.72" cy="71.71" r="2.3" stroke="#ffff00" stroke-width="0.55" fill="none"/><circle cx="367.72" cy="71.71" r="0.25" fill="#ffff00" fill-opacity="0.7"/>
<circle cx="369.30" cy="72.06" r="2.3" stroke="#ffff00" stroke-width="0.55" fill="none"/><circle cx="369.30" cy="72.06" r="0.25" fill="#ffff00" fill-opacity="0.7"/>
<circle cx="370.85" cy="72.43" r="2.3" stroke="#ffff00" stroke-width="0.55" fill="none"/><circle cx="370.85" cy="72.43" r="0.25" fill="#ffff00" fill-opacity="0.7"/>
<circle cx="372.36" cy="72.88" r="2.3" stroke="#ffff00" stroke-width="0.55" fill="none"/><circle cx="372.36" cy="72.88" r="0.25" fill="#ffff00" fill-opacity="0.7"/>
<circle cx="373.85" cy="73.37" r="2.3" stroke="#ffff00" stroke-width="0.55" fill="none"/><circle cx="373.85" cy="73.37" r="0.25" fill="#ffff00" fill-opacity="0.7"/>
<circle cx="375.31" cy="73.89" r="2.3" stroke="#ffff00" stroke-width="0.55" fill="none"/><circle cx="375.31" cy="73.89" r="0.25" fill="#ffff00" fill-opacity="0.7"/>
<circle cx="376.74" cy="74.42" r="2.3" stroke="#ffff00" stroke-width="0.55" fill="none"/><circle cx="376.74" cy="74.42" r="0.25" fill="#ffff00" fill-opacity="0.7"/>
<circle cx="378.15" cy="74.95" r="2.3" stroke="#ffff00" stroke-width="0.55" fill="none"/><circle cx="378.15" cy="74.95" r="0.25" fill="#ffff00" fill-opacity="0.7"/>
<circle cx="379.52" cy="75.45" r="2.3" stroke="#ffff00" stroke-width="0.55" fill="none"/><circle cx="379.52" cy="75.45" r="0.25" fill="#ffff00" fill-opacity="0.7"/>
<circle cx="380.88" cy="75.93" r="2.3" stroke="#ffff00" stroke-width="0.55" fill="none"/><circle cx="380.88" cy="75.93" r="0.25" fill="#ffff00" fill-opacity="0.7"/>
<circle cx="382.21" cy="76.39" r="2.3" stroke="#ffff00" stroke-width="0.55" fill="none"/><circle cx="382.21" cy="76.39" r="0.25" fill="#ffff00" fill-opacity="0.7"/>
<circle cx="383.51" cy="76.87" r="2.3" stroke="#ffff00" stroke-width="0.55" fill="none"/><circle cx="383.51" cy="76.87" r="0.25" fill="#ffff00" fill-opacity="0.7"/>
<circle cx="384.80" cy="77.40" r="2.3" stroke="#ffff00" stroke-width="0.55" fill="none"/><circle cx="384.80" cy="77.40" r="0.25" fill="#ffff00" fill-opacity="0.7"/>
<circle cx="386.06" cy="77.98" r="2.3" stroke="#ffff00" stroke-width="0.55" fill="none"/><circle cx="386.06" cy="77.98" r="0.25" fill="#ffff00" fill-opacity="0.7"/>
<circle cx="387.30" cy="78.61" r="2.3" stroke="#ffff00" stroke-width="0.55" fill="none"/><circle cx="387.30" cy="78.61" r="0.25" fill="#ffff00" fill-opacity="0.7"/>
<circle cx="388.52" cy="79.31" r="2.3" stroke="#ffff00" stroke-width="0.55" fill="none"/><circle cx="388.52" cy="79.31" r="0.25" fill="#ffff00" fill-opacity="0.7"/>
<circle cx="389.72" cy="80.10" r="2.3" stroke="#ffff00" stroke-width="0.55" fill="none"/><circle cx="389.72" cy="80.10" r="0.25" fill="#ffff00" fill-opacity="0.7"/>
<circle cx="390.91" cy="81.07" r="2.3" stroke="#ffff00" stroke-width="0.55" fill="none"/><circle cx="390.91" cy="81.07" r="0.25" fill="#ffff00" fill-opacity="0.7"/>
<circle cx="392.07" cy="82.20" r="2.3" stroke="#ffff00" stroke-width="0.55" fill="none"/><circle cx="392.07" cy="82.20" r="0.25" fill="#ffff00" fill-opacity="0.7"/>
<circle cx="393.22" cy="83.38" r="2.3" stroke="#ffff00" stroke-width="0.55" fill="none"/><circle cx="393.22" cy="83.38" r="0.25" fill="#ffff00" fill-opacity="0.7"/>
<circle cx="394.35" cy="84.70" r="2.3" stroke="#ffff00" stroke-width="0.55" fill="none"/><circle cx="394.35" cy="84.70" r="0.25" fill="#ffff00" fill-opacity="0.7"/>
<circle cx="395.46" cy="86.22" r="2.3" stroke="#ffff00" stroke-width="0.55" fill="none"/><circle cx="395.46" cy="86.22" r="0.25" fill="#ffff00" fill-opacity="0.7"/>
<circle cx="396.56" cy="87.90" r="2.3" stroke="#ffff00" stroke-width="0.55" fill="none"/><circle cx="396.56" cy="87.90" r="0.25" fill="#ffff00" fill-opacity="0.7"/>
<circle cx="397.64" cy="89.71" r="2.3" stroke="#ffff00" stroke-width="0.55" fill="none"/><circle cx="397.64" cy="89.71" r="0.25" fill="#ffff00" fill-opacity="0.7"/>
<circle cx="398.70" cy="91.70" r="2.3" stroke="#ffff00" stroke-width="0.55" fill="none"/><circle cx="398.70" cy="91.70" r="0.25" fill="#ffff00" fill-opacity="0.7"/>
<circle cx="399.76" cy="93.94" r="2.3" stroke="#ffff00" stroke-width="0.55" fill="none"/><circle cx="399.76" cy="93.94" r="0.25" fill="#ffff00" fill-opacity="0.7"/>
<circle cx="400.79" cy="96.40" r="2.3" stroke="#ffff00" stroke-width="0.55" fill="none"/><circle cx="400.79" cy="96.40" r="0.25" fill="#ffff00" fill-opacity="0.7"/>
<circle cx="401.81" cy="99.03" r="2.3" stroke="#ffff00" stroke-width="0.55" fill="none"/><circle cx="401.81" cy="99.03" r="0.25" fill="#ffff00" fill-opacity="0.7"/>
<circle cx="402.82" cy="102.00" r="2.3" stroke="#ffff00" stroke-width="0.55" fill="none"/><circle cx="402.82" cy="102.00" r="0.25" fill="#ffff00" fill-opacity="0.7"/>
<circle cx="403.82" cy="105.70" r="2.3" stroke="#ffff00" stroke-width="0.55" fill="none"/><circle cx="403.82" cy="105.70" r="0.25" fill="#ffff00" fill-opacity="0.7"/>
<circle cx="404.80" cy="111.20" r="2.3" stroke="#ffff00" stroke-width="0.55" fill="none"/><circle cx="404.80" cy="111.20" r="0.25" fill="#ffff00" fill-opacity="0.7"/>
<circle cx="405.77" cy="118.00" r="2.3" stroke="#ffff00" stroke-width="0.55" fill="none"/><circle cx="405.77" cy="118.00" r="0.25" fill="#ffff00" fill-opacity="0.7"/>
<circle cx="406.73" cy="126.10" r="2.3" stroke="#ffff00" stroke-width="0.55" fill="none"/><circle cx="406.73" cy="126.10" r="0.25" fill="#ffff00" fill-opacity="0.7"/>
<circle cx="407.67" cy="137.30" r="2.3" stroke="#ffff00" stroke-width="0.55" fill="none"/><circle cx="407.67" cy="137.30" r="0.25" fill="#ffff00" fill-opacity="0.7"/>
<circle cx="408.60" cy="152.70" r="2.3" stroke="#ffff00" stroke-width="0.55" fill="none"/><circle cx="408.60" cy="152.70" r="0.25" fill="#ffff00" fill-opacity="0.7"/>
<circle cx="409.52" cy="172.70" r="2.3" stroke="#ffff00" stroke-width="0.55" fill="none"/><circle cx="409.52" cy="172.70" r="0.25" fill="#ffff00" fill-opacity="0.7"/>
<circle cx="410.44" cy="199.40" r="2.3" stroke="#ffff00" stroke-width="0.55" fill="none"/><circle cx="410.44" cy="199.40" r="0.25" fill="#ffff00" fill-opacity="0.7"/>
<circle cx="411.33" cy="233.60" r="2.3" stroke="#ffff00" stroke-width="0.55" fill="none"/><circle cx="411.33" cy="233.60" r="0.25" fill="#ffff00" fill-opacity="0.7"/>
<circle cx="412.22" cy="268.90" r="2.3" stroke="#ffff00" stroke-width="0.55" fill="none"/><circle cx="412.22" cy="268.90" r="0.25" fill="#ffff00" fill-opacity="0.7"/>
<circle cx="413.10" cy="292.30" r="2.3" stroke="#ffff00" stroke-width="0.55" fill="none"/><circle cx="413.10" cy="292.30" r="0.25" fill="#ffff00" fill-opacity="0.7"/>
<circle cx="413.97" cy="298.50" r="2.3" stroke="#ffff00" stroke-width="0.55" fill="none"/><circle cx="413.97" cy="298.50" r="0.25" fill="#ffff00" fill-opacity="0.7"/>
<circle cx="414.83" cy="299.50" r="2.3" stroke="#ffff00" stroke-width="0.55" fill="none"/><circle cx="414.83" cy="299.50" r="0.25" fill="#ffff00" fill-opacity="0.7"/>
<circle cx="415.68" cy="299.50" r="2.3" stroke="#ffff00" stroke-width="0.55" fill="none"/><circle cx="415.68" cy="299.50" r="0.25" fill="#ffff00" fill-opacity="0.7"/>
<circle cx="416.52" cy="299.50" r="2.3" stroke="#ffff00" stroke-width="0.55" fill="none"/><circle cx="416.52" cy="299.50" r="0.25" fill="#ffff00" fill-opacity="0.7"/>
<circle cx="417.35" cy="299.50" r="2.3" stroke="#ffff00" stroke-width="0.55" fill="none"/><circle cx="417.35" cy="299.50" r="0.25" fill="#ffff00" fill-opacity="0.7"/>
<circle cx="418.17" cy="299.50" r="2.3" stroke="#ffff00" stroke-width="0.55" fill="none"/><circle cx="418.17" cy="299.50" r="0.25" fill="#ffff00" fill-opacity="0.7"/>
<circle cx="418.98" cy="299.50" r="2.3" stroke="#ffff00" stroke-width="0.55" fill="none"/><circle cx="418.98" cy="299.50" r="0.25" fill="#ffff00" fill-opacity="0.7"/>
<circle cx="419.78" cy="299.50" r="2.3" stroke="#ffff00" stroke-width="0.55" fill="none"/><circle cx="419.78" cy="299.50" r="0.25" fill="#ffff00" fill-opacity="0.7"/>
<circle cx="420.58" cy="299.50" r="2.3" stroke="#ffff00" stroke-width="0.55" fill="none"/><circle cx="420.58" cy="299.50" r="0.25" fill="#ffff00" fill-opacity="0.7"/>
<circle cx="421.37" cy="299.50" r="2.3" stroke="#ffff00" stroke-width="0.55" fill="none"/><circle cx="421.37" cy="299.50" r="0.25" fill="#ffff00" fill-opacity="0.7"/>
<circle cx="422.14" cy="299.50" r="2.3" stroke="#ffff00" stroke-width="0.55" fill="none"/><circle cx="422.14" cy="299.50" r="0.25" fill="#ffff00" fill-opacity="0.7"/>
<circle cx="422.91" cy="299.50" r="2.3" stroke="#ffff00" stroke-width="0.55" fill="none"/><circle cx="422.91" cy="299.50" r="0.25" fill="#ffff00" fill-opacity="0.7"/>
<circle cx="423.68" cy="299.50" r="2.3" stroke="#ffff00" stroke-width="0.55" fill="none"/><circle cx="423.68" cy="299.50" r="0.25" fill="#ffff00" fill-opacity="0.7"/>
<circle cx="424.43" cy="299.50" r="2.3" stroke="#ffff00" stroke-width="0.55" fill="none"/><circle cx="424.43" cy="299.50" r="0.25" fill="#ffff00" fill-opacity="0.7"/>
<circle cx="425.18" cy="299.50" r="2.3" stroke="#ffff00" stroke-width="0.55" fill="none"/><circle cx="425.18" cy="299.50" r="0.25" fill="#ffff00" fill-opacity="0.7"/>
<circle cx="425.92" cy="299.50" r="2.3" stroke="#ffff00" stroke-width="0.55" fill="none"/><circle cx="425.92" cy="299.50" r="0.25" fill="#ffff00" fill-opacity="0.7"/>
<circle cx="426.65" cy="299.50" r="2.3" stroke="#ffff00" stroke-width="0.55" fill="none"/><circle cx="426.65" cy="299.50" r="0.25" fill="#ffff00" fill-opacity="0.7"/>
<circle cx="427.38" cy="299.50" r="2.3" stroke="#ffff00" stroke-width="0.55" fill="none"/><circle cx="427.38" cy="299.50" r="0.25" fill="#ffff00" fill-opacity="0.7"/>
<circle cx="428.10" cy="299.50" r="2.3" stroke="#ffff00" stroke-width="0.55" fill="none"/><circle cx="428.10" cy="299.50" r="0.25" fill="#ffff00" fill-opacity="0.7"/>
<circle cx="428.81" cy="299.50" r="2.3" stroke="#ffff00" stroke-width="0.55" fill="none"/><circle cx="428.81" cy="299.50" r="0.25" fill="#ffff00" fill-opacity="0.7"/>
<circle cx="429.51" cy="299.50" r="2.3" stroke="#ffff00" stroke-width="0.55" fill="none"/><circle cx="429.51" cy="299.50" r="0.25" fill="#ffff00" fill-opacity="0.7"/>
<circle cx="430.21" cy="299.50" r="2.3" stroke="#ffff00" stroke-width="0.55" fill="none"/><circle cx="430.21" cy="299.50" r="0.25" fill="#ffff00" fill-opacity="0.7"/>
<circle cx="430.91" cy="299.50" r="2.3" stroke="#ffff00" stroke-width="0.55" fill="none"/><circle cx="430.91" cy="299.50" r="0.25" fill="#ffff00" fill-opacity="0.7"/>
<circle cx="431.59" cy="299.50" r="2.3" stroke="#ffff00" stroke-width="0.55" fill="none"/><circle cx="431.59" cy="299.50" r="0.25" fill="#ffff00" fill-opacity="0.7"/>
<circle cx="432.27" cy="299.50" r="2.3" stroke="#ffff00" stroke-width="0.55" fill="none"/><circle cx="432.27" cy="299.50" r="0.25" fill="#ffff00" fill-opacity="0.7"/>
<circle cx="432.95" cy="299.50" r="2.3" stroke="#ffff00" stroke-width="0.55" fill="none"/><circle cx="432.95" cy="299.50" r="0.25" fill="#ffff00" fill-opacity="0.7"/>
<circle cx="433.61" cy="299.50" r="2.3" stroke="#ffff00" stroke-width="0.55" fill="none"/><circle cx="433.61" cy="299.50" r="0.25" fill="#ffff00" fill-opacity="0.7"/>
<circle cx="434.27" cy="299.50" r="2.3" stroke="#ffff00" stroke-width="0.55" fill="none"/><circle cx="434.27" cy="299.50" r="0.25" fill="#ffff00" fill-opacity="0.7"/>
<circle cx="434.93" cy="299.50" r="2.3" stroke="#ffff00" stroke-width="0.55" fill="none"/><circle cx="434.93" cy="299.50" r="0.25" fill="#ffff00" fill-opacity="0.7"/>
<circle cx="435.58" cy="299.50" r="2.3" stroke="#ffff00" stroke-width="0.55" fill="none"/><circle cx="435.58" cy="299.50" r="0.25" fill="#ffff00" fill-opacity="0.7"/>
<circle cx="436.23" cy="299.50" r="2.3" stroke="#ffff00" stroke-width="0.55" fill="none"/><circle cx="436.23" cy="299.50" r="0.25" fill="#ffff00" fill-opacity="0.7"/>
<circle cx="436.87" cy="299.50" r="2.3" stroke="#ffff00" stroke-width="0.55" fill="none"/><circle cx="436.87" cy="299.50" r="0.25" fill="#ffff00" fill-opacity="0.7"/>
<circle cx="437.50" cy="299.50" r="2.3" stroke="#ffff00" stroke-width="0.55" fill="none"/><circle cx="437.50" cy="299.50" r="0.25" fill="#ffff00" fill-opacity="0.7"/>
<circle cx="438.13" cy="299.50" r="2.3" stroke="#ffff00" stroke-width="0.55" fill="none"/><circle cx="438.13" cy="299.50" r="0.25" fill="#ffff00" fill-opacity="0.7"/>
<circle cx="438.75" cy="299.50" r="2.3" stroke="#ffff00" stroke-width="0.55" fill="none"/><circle cx="438.75" cy="299.50" r="0.25" fill="#ffff00" fill-opacity="0.7"/>
<circle cx="439.37" cy="299.50" r="2.3" stroke="#ffff00" stroke-width="0.55" fill="none"/><circle cx="439.37" cy="299.50" r="0.25" fill="#ffff00" fill-opacity="0.7"/>
<circle cx="439.98" cy="299.50" r="2.3" stroke="#ffff00" stroke-width="0.55" fill="none"/><circle cx="439.98" cy="299.50" r="0.25" fill="#ffff00" fill-opacity="0.7"/>
<circle cx="440.59" cy="299.50" r="2.3" stroke="#ffff00" stroke-width="0.55" fill="none"/><circle cx="440.59" cy="299.50" r="0.25" fill="#ffff00" fill-opacity="0.7"/>
<circle cx="441.19" cy="299.50" r="2.3" stroke="#ffff00" stroke-width="0.55" fill="none"/><circle cx="441.19" cy="299.50" r="0.25" fill="#ffff00" fill-opacity="0.7"/>
<circle cx="441.79" cy="299.50" r="2.3" stroke="#ffff00" stroke-width="0.55" fill="none"/><circle cx="441.79" cy="299.50" r="0.25" fill="#ffff00" fill-opacity="0.7"/>
<circle cx="442.39" cy="299.50" r="2.3" stroke="#ffff00" stroke-width="0.55" fill="none"/><circle cx="442.39" cy="299.50" r="0.25" fill="#ffff00" fill-opacity="0.7"/>
<circle cx="442.98" cy="299.50" r="2.3" stroke="#ffff00" stroke-width="0.55" fill="none"/><circle cx="442.98" cy="299.50" r="0.25" fill="#ffff00" fill-opacity="0.7"/>
<circle cx="443.56" cy="299.50" r="2.3" stroke="#ffff00" stroke-width="0.55" fill="none"/><circle cx="443.56" cy="299.50" r="0.25" fill="#ffff00" fill-opacity="0.7"/>
<circle cx="444.14" cy="299.50" r="2.3" stroke="#ffff00" stroke-width="0.55" fill="none"/><circle cx="444.14" cy="299.50" r="0.25" fill="#ffff00" fill-opacity="0.7"/>
<circle cx="444.72" cy="299.50" r="2.3" stroke="#ffff00" stroke-width="0.55" fill="none"/><circle cx="444.72" cy="299.50" r="0.25" fill="#ffff00" fill-opacity="0.7"/>
<circle cx="445.29" cy="299.50" r="2.3" stroke="#ffff00" stroke-width="0.55" fill="none"/><circle cx="445.29" cy="299.50" r="0.25" fill="#ffff00" fill-opacity="0.7"/>
<circle cx="445.85" cy="299.50" r="2.3" stroke="#ffff00" stroke-width="0.55" fill="none"/><circle cx="445.85" cy="299.50" r="0.25" fill="#ffff00" fill-opacity="0.7"/>
<circle cx="446.42" cy="299.50" r="2.3" stroke="#ffff00" stroke-width="0.55" fill="none"/><circle cx="446.42" cy="299.50" r="0.25" fill="#ffff00" fill-opacity="0.7"/>
<circle cx="446.98" cy="299.50" r="2.3" stroke="#ffff00" stroke-width="0.55" fill="none"/><circle cx="446.98" cy="299.50" r="0.25" fill="#ffff00" fill-opacity="0.7"/>
<circle cx="447.53" cy="299.50" r="2.3" stroke="#ffff00" stroke-width="0.55" fill="none"/><circle cx="447.53" cy="299.50" r="0.25" fill="#ffff00" fill-opacity="0.7"/>
<circle cx="448.08" cy="299.50" r="2.3" stroke="#ffff00" stroke-width="0.55" fill="none"/><circle cx="448.08" cy="299.50" r="0.25" fill="#ffff00" fill-opacity="0.7"/>
<circle cx="448.63" cy="299.50" r="2.3" stroke="#ffff00" stroke-width="0.55" fill="none"/><circle cx="448.63" cy="299.50" r="0.25" fill="#ffff00" fill-opacity="0.7"/>
<circle cx="449.17" cy="299.50" r="2.3" stroke="#ffff00" stroke-width="0.55" fill="none"/><circle cx="449.17" cy="299.50" r="0.25" fill="#ffff00" fill-opacity="0.7"/>
<circle cx="449.71" cy="299.50" r="2.3" stroke="#ffff00" stroke-width="0.55" fill="none"/><circle cx="449.71" cy="299.50" r="0.25" fill="#ffff00" fill-opacity="0.7"/>
<circle cx="450.24" cy="299.50" r="2.3" stroke="#ffff00" stroke-width="0.55" fill="none"/><circle cx="450.24" cy="299.50" r="0.25" fill="#ffff00" fill-opacity="0.7"/>
<circle cx="450.77" cy="299.50" r="2.3" stroke="#ffff00" stroke-width="0.55" fill="none"/><circle cx="450.77" cy="299.50" r="0.25" fill="#ffff00" fill-opacity="0.7"/>
<circle cx="451.30" cy="299.50" r="2.3" stroke="#ffff00" stroke-width="0.55" fill="none"/><circle cx="451.30" cy="299.50" r="0.25" fill="#ffff00" fill-opacity="0.7"/>
<circle cx="451.82" cy="299.50" r="2.3" stroke="#ffff00" stroke-width="0.55" fill="none"/><circle cx="451.82" cy="299.50" r="0.25" fill="#ffff00" fill-opacity="0.7"/>
<circle cx="452.34" cy="299.50" r="2.3" stroke="#ffff00" stroke-width="0.55" fill="none"/><circle cx="452.34" cy="299.50" r="0.25" fill="#ffff00" fill-opacity="0.7"/>
<circle cx="452.86" cy="299.50" r="2.3" stroke="#ffff00" stroke-width="0.55" fill="none"/><circle cx="452.86" cy="299.50" r="0.25" fill="#ffff00" fill-opacity="0.7"/>
<circle cx="453.37" cy="299.50" r="2.3" stroke="#ffff00" stroke-width="0.55" fill="none"/><circle cx="453.37" cy="299.50" r="0.25" fill="#ffff00" fill-opacity="0.7"/>
<circle cx="453.88" cy="299.50" r="2.3" stroke="#ffff00" stroke-width="0.55" fill="none"/><circle cx="453.88" cy="299.50" r="0.25" fill="#ffff00" fill-opacity="0.7"/>
<circle cx="454.39" cy="299.50" r="2.3" stroke="#ffff00" stroke-width="0.55" fill="none"/><circle cx="454.39" cy="299.50" r="0.25" fill="#ffff00" fill-opacity="0.7"/>
<circle cx="454.89" cy="299.50" r="2.3" stroke="#ffff00" stroke-width="0.55" fill="none"/><circle cx="454.89" cy="299.50" r="0.25" fill="#ffff00" fill-opacity="0.7"/>
<circle cx="455.39" cy="299.50" r="2.3" stroke="#ffff00" stroke-width="0.55" fill="none"/><circle cx="455.39" cy="299.50" r="0.25" fill="#ffff00" fill-opacity="0.7"/>
<circle cx="455.88" cy="299.50" r="2.3" stroke="#ffff00" stroke-width="0.55" fill="none"/><circle cx="455.88" cy="299.50" r="0.25" fill="#ffff00" fill-opacity="0.7"/>
<circle cx="456.38" cy="299.50" r="2.3" stroke="#ffff00" stroke-width="0.55" fill="none"/><circle cx="456.38" cy="299.50" r="0.25" fill="#ffff00" fill-opacity="0.7"/>
<circle cx="456.87" cy="299.50" r="2.3" stroke="#ffff00" stroke-width="0.55" fill="none"/><circle cx="456.87" cy="299.50" r="0.25" fill="#ffff00" fill-opacity="0.7"/>
<circle cx="457.35" cy="299.50" r="2.3" stroke="#ffff00" stroke-width="0.55" fill="none"/><circle cx="457.35" cy="299.50" r="0.25" fill="#ffff00" fill-opacity="0.7"/>
<circle cx="457.84" cy="299.50" r="2.3" stroke="#ffff00" stroke-width="0.55" fill="none"/><circle cx="457.84" cy="299.50" r="0.25" fill="#ffff00" fill-opacity="0.7"/>
<circle cx="458.32" cy="299.50" r="2.3" stroke="#ffff00" stroke-width="0.55" fill="none"/><circle cx="458.32" cy="299.50" r="0.25" fill="#ffff00" fill-opacity="0.7"/>
<circle cx="458.79" cy="299.50" r="2.3" stroke="#ffff00" stroke-width="0.55" fill="none"/><circle cx="458.79" cy="299.50" r="0.25" fill="#ffff00" fill-opacity="0.7"/>
<circle cx="459.27" cy="299.50" r="2.3" stroke="#ffff00" stroke-width="0.55" fill="none"/><circle cx="459.27" cy="299.50" r="0.25" fill="#ffff00" fill-opacity="0.7"/>
<circle cx="459.74" cy="299.50" r="2.3" stroke="#ffff00" stroke-width="0.55" fill="none"/><circle cx="459.74" cy="299.50" r="0.25" fill="#ffff00" fill-opacity="0.7"/>
<circle cx="460.21" cy="299.50" r="2.3" stroke="#ffff00" stroke-width="0.55" fill="none"/><circle cx="460.21" cy="299.50" r="0.25" fill="#ffff00" fill-opacity="0.7"/>
<circle cx="460.67" cy="299.50" r="2.3" stroke="#ffff00" stroke-width="0.55" fill="none"/><circle cx="460.67" cy="299.50" r="0.25" fill="#ffff00" fill-opacity="0.7"/>
<circle cx="461.13" cy="299.50" r="2.3" stroke="#ffff00" stroke-width="0.55" fill="none"/><circle cx="461.13" cy="299.50" r="0.25" fill="#ffff00" fill-opacity="0.7"/>
<circle cx="461.59" cy="299.50" r="2.3" stroke="#ffff00" stroke-width="0.55" fill="none"/><circle cx="461.59" cy="299.50" r="0.25" fill="#ffff00" fill-opacity="0.7"/>
<circle cx="462.05" cy="299.50" r="2.3" stroke="#ffff00" stroke-width="0.55" fill="none"/><circle cx="462.05" cy="299.50" r="0.25" fill="#ffff00" fill-opacity="0.7"/>
<circle cx="462.50" cy="299.50" r="2.3" stroke="#ffff00" stroke-width="0.55" fill="none"/><circle cx="462.50" cy="299.50" r="0.25" fill="#ffff00" fill-opacity="0.7"/>
<circle cx="462.95" cy="299.50" r="2.3" stroke="#ffff00" stroke-width="0.55" fill="none"/><circle cx="462.95" cy="299.50" r="0.25" fill="#ffff00" fill-opacity="0.7"/>
<circle cx="463.40" cy="299.50" r="2.3" stroke="#ffff00" stroke-width="0.55" fill="none"/><circle cx="463.40" cy="299.50" r="0.25" fill="#ffff00" fill-opacity="0.7"/>
<circle cx="463.85" cy="299.50" r="2.3" stroke="#ffff00" stroke-width="0.55" fill="none"/><circle cx="463.85" cy="299.50" r="0.25" fill="#ffff00" fill-opacity="0.7"/>
<circle cx="464.29" cy="299.50" r="2.3" stroke="#ffff00" stroke-width="0.55" fill="none"/><circle cx="464.29" cy="299.50" r="0.25" fill="#ffff00" fill-opacity="0.7"/>
<circle cx="464.73" cy="299.50" r="2.3" stroke="#ffff00" stroke-width="0.55" fill="none"/><circle cx="464.73" cy="299.50" r="0.25" fill="#ffff00" fill-opacity="0.7"/>
<circle cx="465.17" cy="299.50" r="2.3" stroke="#ffff00" stroke-width="0.55" fill="none"/><circle cx="465.17" cy="299.50" r="0.25" fill="#ffff00" fill-opacity="0.7"/>
<circle cx="465.61" cy="299.50" r="2.3" stroke="#ffff00" stroke-width="0.55" fill="none"/><circle cx="465.61" cy="299.50" r="0.25" fill="#ffff00" fill-opacity="0.7"/>
<circle cx="466.04" cy="299.50" r="2.3" stroke="#ffff00" stroke-width="0.55" fill="none"/><circle cx="466.04" cy="299.50" r="0.25" fill="#ffff00" fill-opacity="0.7"/>
<circle cx="466.47" cy="299.50" r="2.3" stroke="#ffff00" stroke-width="0.55" fill="none"/><circle cx="466.47" cy="299.50" r="0.25" fill="#ffff00" fill-opacity="0.7"/>
<circle cx="466.90" cy="299.50" r="2.3" stroke="#ffff00" stroke-width="0.55" fill="none"/><circle cx="466.90" cy="299.50" r="0.25" fill="#ffff00" fill-opacity="0.7"/>
<circle cx="467.32" cy="299.50" r="2.3" stroke="#ffff00" stroke-width="0.55" fill="none"/><circle cx="467.32" cy="299.50" r="0.25" fill="#ffff00" fill-opacity="0.7"/>
<circle cx="467.75" cy="299.50" r="2.3" stroke="#ffff00" stroke-width="0.55" fill="none"/><circle cx="467.75" cy="299.50" r="0.25" fill="#ffff00" fill-opacity="0.7"/>
<circle cx="468.17" cy="299.50" r="2.3" stroke="#ffff00" stroke-width="0.55" fill="none"/><circle cx="468.17" cy="299.50" r="0.25" fill="#ffff00" fill-opacity="0.7"/>
<circle cx="468.59" cy="299.50" r="2.3" stroke="#ffff00" stroke-width="0.55" fill="none"/><circle cx="468.59" cy="299.50" r="0.25" fill="#ffff00" fill-opacity="0.7"/>
<circle cx="469.00" cy="299.50" r="2.3" stroke="#ffff00" stroke-width="0.55" fill="none"/><circle cx="469.00" cy="299.50" r="0.25" fill="#ffff00" fill-opacity="0.7"/>
<circle cx="469.42" cy="299.50" r="2.3" stroke="#ffff00" stroke-width="0.55" fill="none"/><circle cx="469.42" cy="299.50" r="0.25" fill="#ffff00" fill-opacity="0.7"/>
<circle cx="469.83" cy="299.50" r="2.3" stroke="#ffff00" stroke-width="0.55" fill="none"/><circle cx="469.83" cy="299.50" r="0.25" fill="#ffff00" fill-opacity="0.7"/>
<circle cx="470.24" cy="299.50" r="2.3" stroke="#ffff00" stroke-width="0.55" fill="none"/><circle cx="470.24" cy="299.50" r="0.25" fill="#ffff00" fill-opacity="0.7"/>
<circle cx="470.64" cy="299.50" r="2.3" stroke="#ffff00" stroke-width="0.55" fill="none"/><circle cx="470.64" cy="299.50" r="0.25" fill="#ffff00" fill-opacity="0.7"/>
<circle cx="471.05" cy="299.50" r="2.3" stroke="#ffff00" stroke-width="0.55" fill="none"/><circle cx="471.05" cy="299.50" r="0.25" fill="#ffff00" fill-opacity="0.7"/>
<circle cx="471.45" cy="299.50" r="2.3" stroke="#ffff00" stroke-width="0.55" fill="none"/><circle cx="471.45" cy="299.50" r="0.25" fill="#ffff00" fill-opacity="0.7"/>
<circle cx="471.85" cy="299.50" r="2.3" stroke="#ffff00" stroke-width="0.55" fill="none"/><circle cx="471.85" cy="299.50" r="0.25" fill="#ffff00" fill-opacity="0.7"/>
<circle cx="472.25" cy="299.50" r="2.3" stroke="#ffff00" stroke-width="0.55" fill="none"/><circle cx="472.25" cy="299.50" r="0.25" fill="#ffff00" fill-opacity="0.7"/>
<circle cx="472.65" cy="299.50" r="2.3" stroke="#ffff00" stroke-width="0.55" fill="none"/><circle cx="472.65" cy="299.50" r="0.25" fill="#ffff00" fill-opacity="0.7"/>
<circle cx="473.04" cy="299.50" r="2.3" stroke="#ffff00" stroke-width="0.55" fill="none"/><circle cx="473.04" cy="299.50" r="0.25" fill="#ffff00" fill-opacity="0.7"/>
<circle cx="473.43" cy="299.50" r="2.3" stroke="#ffff00" stroke-width="0.55" fill="none"/><circle cx="473.43" cy="299.50" r="0.25" fill="#ffff00" fill-opacity="0.7"/>
<circle cx="473.82" cy="299.50" r="2.3" stroke="#ffff00" stroke-width="0.55" fill="none"/><circle cx="473.82" cy="299.50" r="0.25" fill="#ffff00" fill-opacity="0.7"/>
<circle cx="474.21" cy="299.50" r="2.3" stroke="#ffff00" stroke-width="0.55" fill="none"/><circle cx="474.21" cy="299.50" r="0.25" fill="#ffff00" fill-opacity="0.7"/>
<circle cx="474.60" cy="299.50" r="2.3" stroke="#ffff00" stroke-width="0.55" fill="none"/><circle cx="474.60" cy="299.50" r="0.25" fill="#ffff00" fill-opacity="0.7"/>
<circle cx="474.98" cy="299.50" r="2.3" stroke="#ffff00" stroke-width="0.55" fill="none"/><circle cx="474.98" cy="299.50" r="0.25" fill="#ffff00" fill-opacity="0.7"/>
<circle cx="475.36" cy="299.50" r="2.3" stroke="#ffff00" stroke-width="0.55" fill="none"/><circle cx="475.36" cy="299.50" r="0.25" fill="#ffff00" fill-opacity="0.7"/>
<circle cx="475.75" cy="299.50" r="2.3" stroke="#ffff00" stroke-width="0.55" fill="none"/><circle cx="475.75" cy="299.50" r="0.25" fill="#ffff00" fill-opacity="0.7"/>
<circle cx="476.12" cy="299.50" r="2.3" stroke="#ffff00" stroke-width="0.55" fill="none"/><circle cx="476.12" cy="299.50" r="0.25" fill="#ffff00" fill-opacity="0.7"/>
<circle cx="476.50" cy="299.50" r="2.3" stroke="#ffff00" stroke-width="0.55" fill="none"/><circle cx="476.50" cy="299.50" r="0.25" fill="#ffff00" fill-opacity="0.7"/>
<circle cx="170.50" cy="261.00" r="2.3" stroke="#ffff00" stroke-width="0.55" fill="none"/><circle cx="170.50" cy="261.00" r="0.25" fill="#ffff00" fill-opacity="0.7"/>
<g transform="matrix(1 0 0 1.09 0 -23.923)"><text x="93.32" y="265.81">T=0.938</text></g>
</g>
<g>
<path d="M78.50 16.00L130.57 26.10L161.03 34.50L182.64 39.30L199.40 42.80L213.09 46.00L224.67 48.00L234.70 50.00L243.55 51.60L251.47 52.80L258.63 54.06L265.16 55.20L271.17 56.11L276.74 56.90L281.92 57.60L286.77 58.24L291.33 58.82L295.62 59.34L299.68 59.80L303.53 60.20L307.20 60.56L310.69 60.89L314.03 61.19L317.23 61.48L320.30 61.75L323.24 62.01L326.08 62.26L328.81 62.50L331.45 62.74L333.99 62.97L336.45 63.19L338.84 63.41L341.15 63.61L343.39 63.81L345.57 64.01L347.69 64.21L349.75 64.40L351.75 64.59L353.70 64.78L355.60 64.96L357.46 65.14L359.27 65.32L361.03 65.50L362.76 65.67L364.45 65.84L366.10 66.01L367.72 66.17L369.30 66.34L370.85 66.50L372.36 66.66L373.85 66.82L375.31 66.97L376.74 67.13L378.15 67.28L379.52 67.43L380.88 67.58L382.21 67.73L383.51 67.87L384.80 68.02L386.06 68.16L387.30 68.30L388.52 68.43L389.72 68.57L390.91 68.70L392.07 68.83L393.22 68.96L394.35 69.09L395.46 69.22L396.56 69.34L397.64 69.47L398.70 69.58L399.76 69.70L400.79 69.81L401.81 69.91L402.82 70.01L403.82 70.11L404.80 70.20L405.77 70.29L406.73 70.38L407.67 70.46L408.60 70.55L409.52 70.63L410.44 70.72L411.33 70.80L412.22 70.89L413.10 70.98L413.97 71.07L414.83 71.16L415.68 71.25L416.52 71.35L417.35 71.45L418.17 71.55L418.98 71.66L419.78 71.77L420.58 71.88L421.37 72.00L422.14 72.12L422.91 72.25L423.68 72.39L424.43 72.53L425.18 72.67L425.92 72.82L426.65 72.98L427.38 73.14L428.10 73.31L428.81 73.49L429.51 73.67L430.21 73.86L430.91 74.05L431.59 74.25L432.27 74.47L432.95 74.69L433.61 74.92L434.27 75.16L434.93 75.42L435.58 75.69L436.23 75.97L436.87 76.27L437.50 76.58L438.13 76.91L438.75 77.26L439.37 77.62L439.98 78.00L440.59 78.43L441.19 78.92L441.79 79.48L442.39 80.10L442.98 80.76L443.56 81.47L444.14 82.22L444.72 83.00L445.29 83.81L445.85 84.68L446.42 85.64L446.98 86.72L447.53 87.95L448.08 89.35L448.63 91.20L449.17 93.49L449.71 96.00L450.24 98.88L450.77 102.00L451.30 105.10L451.82 108.60L452.34 113.50L452.86 120.00L453.37 129.00L453.88 140.80L454.39 156.10L454.89 178.00L455.39 206.30L455.88 240.90L456.38 275.00L456.87 295.00L457.35 299.00L457.84 299.50L458.32 299.50L458.79 299.50L459.27 299.50L459.74 299.50L460.21 299.50L460.67 299.50L461.13 299.50L461.59 299.50L462.05 299.50L462.50 299.50L462.95 299.50L463.40 299.50L463.85 299.50L464.29 299.50L464.73 299.50L465.17 299.50L465.61 299.50L466.04 299.50L466.47 299.50L466.90 299.50L467.32 299.50L467.75 299.50L468.17 299.50L468.59 299.50L469.00 299.50L469.42 299.50L469.83 299.50L470.24 299.50L470.64 299.50L471.05 299.50L471.45 299.50L471.85 299.50L472.25 299.50L472.65 299.50L473.04 299.50L473.43 299.50L473.82 299.50L474.21 299.50L474.60 299.50L474.98 299.50L475.36 299.50L475.75 299.50L476.12 299.50L476.50 299.50" stroke="#000000" stroke-width="0.5" fill="none" stroke-dasharray="1.9 0.8 1.9 4.0"/>
<path d="M152.2 274.60H188.8" stroke="#000000" stroke-width="0.5" fill="none" stroke-dasharray="1.9 0.8 1.9 4.0"/>
<circle cx="78.50" cy="16.00" r="2.35" fill="#000000"/>
<circle cx="130.57" cy="26.10" r="2.35" fill="#000000"/>
<circle cx="161.03" cy="34.50" r="2.35" fill="#000000"/>
<circle cx="182.64" cy="39.30" r="2.35" fill="#000000"/>
<circle cx="199.40" cy="42.80" r="2.35" fill="#000000"/>
<circle cx="213.09" cy="46.00" r="2.35" fill="#000000"/>
<circle cx="224.67" cy="48.00" r="2.35" fill="#000000"/>
<circle cx="234.70" cy="50.00" r="2.35" fill="#000000"/>
<circle cx="243.55" cy="51.60" r="2.35" fill="#000000"/>
<circle cx="251.47" cy="52.80" r="2.35" fill="#000000"/>
<circle cx="258.63" cy="54.06" r="2.35" fill="#000000"/>
<circle cx="265.16" cy="55.20" r="2.35" fill="#000000"/>
<circle cx="271.17" cy="56.11" r="2.35" fill="#000000"/>
<circle cx="276.74" cy="56.90" r="2.35" fill="#000000"/>
<circle cx="281.92" cy="57.60" r="2.35" fill="#000000"/>
<circle cx="286.77" cy="58.24" r="2.35" fill="#000000"/>
<circle cx="291.33" cy="58.82" r="2.35" fill="#000000"/>
<circle cx="295.62" cy="59.34" r="2.35" fill="#000000"/>
<circle cx="299.68" cy="59.80" r="2.35" fill="#000000"/>
<circle cx="303.53" cy="60.20" r="2.35" fill="#000000"/>
<circle cx="307.20" cy="60.56" r="2.35" fill="#000000"/>
<circle cx="310.69" cy="60.89" r="2.35" fill="#000000"/>
<circle cx="314.03" cy="61.19" r="2.35" fill="#000000"/>
<circle cx="317.23" cy="61.48" r="2.35" fill="#000000"/>
<circle cx="320.30" cy="61.75" r="2.35" fill="#000000"/>
<circle cx="323.24" cy="62.01" r="2.35" fill="#000000"/>
<circle cx="326.08" cy="62.26" r="2.35" fill="#000000"/>
<circle cx="328.81" cy="62.50" r="2.35" fill="#000000"/>
<circle cx="331.45" cy="62.74" r="2.35" fill="#000000"/>
<circle cx="333.99" cy="62.97" r="2.35" fill="#000000"/>
<circle cx="336.45" cy="63.19" r="2.35" fill="#000000"/>
<circle cx="338.84" cy="63.41" r="2.35" fill="#000000"/>
<circle cx="341.15" cy="63.61" r="2.35" fill="#000000"/>
<circle cx="343.39" cy="63.81" r="2.35" fill="#000000"/>
<circle cx="345.57" cy="64.01" r="2.35" fill="#000000"/>
<circle cx="347.69" cy="64.21" r="2.35" fill="#000000"/>
<circle cx="349.75" cy="64.40" r="2.35" fill="#000000"/>
<circle cx="351.75" cy="64.59" r="2.35" fill="#000000"/>
<circle cx="353.70" cy="64.78" r="2.35" fill="#000000"/>
<circle cx="355.60" cy="64.96" r="2.35" fill="#000000"/>
<circle cx="357.46" cy="65.14" r="2.35" fill="#000000"/>
<circle cx="359.27" cy="65.32" r="2.35" fill="#000000"/>
<circle cx="361.03" cy="65.50" r="2.35" fill="#000000"/>
<circle cx="362.76" cy="65.67" r="2.35" fill="#000000"/>
<circle cx="364.45" cy="65.84" r="2.35" fill="#000000"/>
<circle cx="366.10" cy="66.01" r="2.35" fill="#000000"/>
<circle cx="367.72" cy="66.17" r="2.35" fill="#000000"/>
<circle cx="369.30" cy="66.34" r="2.35" fill="#000000"/>
<circle cx="370.85" cy="66.50" r="2.35" fill="#000000"/>
<circle cx="372.36" cy="66.66" r="2.35" fill="#000000"/>
<circle cx="373.85" cy="66.82" r="2.35" fill="#000000"/>
<circle cx="375.31" cy="66.97" r="2.35" fill="#000000"/>
<circle cx="376.74" cy="67.13" r="2.35" fill="#000000"/>
<circle cx="378.15" cy="67.28" r="2.35" fill="#000000"/>
<circle cx="379.52" cy="67.43" r="2.35" fill="#000000"/>
<circle cx="380.88" cy="67.58" r="2.35" fill="#000000"/>
<circle cx="382.21" cy="67.73" r="2.35" fill="#000000"/>
<circle cx="383.51" cy="67.87" r="2.35" fill="#000000"/>
<circle cx="384.80" cy="68.02" r="2.35" fill="#000000"/>
<circle cx="386.06" cy="68.16" r="2.35" fill="#000000"/>
<circle cx="387.30" cy="68.30" r="2.35" fill="#000000"/>
<circle cx="388.52" cy="68.43" r="2.35" fill="#000000"/>
<circle cx="389.72" cy="68.57" r="2.35" fill="#000000"/>
<circle cx="390.91" cy="68.70" r="2.35" fill="#000000"/>
<circle cx="392.07" cy="68.83" r="2.35" fill="#000000"/>
<circle cx="393.22" cy="68.96" r="2.35" fill="#000000"/>
<circle cx="394.35" cy="69.09" r="2.35" fill="#000000"/>
<circle cx="395.46" cy="69.22" r="2.35" fill="#000000"/>
<circle cx="396.56" cy="69.34" r="2.35" fill="#000000"/>
<circle cx="397.64" cy="69.47" r="2.35" fill="#000000"/>
<circle cx="398.70" cy="69.58" r="2.35" fill="#000000"/>
<circle cx="399.76" cy="69.70" r="2.35" fill="#000000"/>
<circle cx="400.79" cy="69.81" r="2.35" fill="#000000"/>
<circle cx="401.81" cy="69.91" r="2.35" fill="#000000"/>
<circle cx="402.82" cy="70.01" r="2.35" fill="#000000"/>
<circle cx="403.82" cy="70.11" r="2.35" fill="#000000"/>
<circle cx="404.80" cy="70.20" r="2.35" fill="#000000"/>
<circle cx="405.77" cy="70.29" r="2.35" fill="#000000"/>
<circle cx="406.73" cy="70.38" r="2.35" fill="#000000"/>
<circle cx="407.67" cy="70.46" r="2.35" fill="#000000"/>
<circle cx="408.60" cy="70.55" r="2.35" fill="#000000"/>
<circle cx="409.52" cy="70.63" r="2.35" fill="#000000"/>
<circle cx="410.44" cy="70.72" r="2.35" fill="#000000"/>
<circle cx="411.33" cy="70.80" r="2.35" fill="#000000"/>
<circle cx="412.22" cy="70.89" r="2.35" fill="#000000"/>
<circle cx="413.10" cy="70.98" r="2.35" fill="#000000"/>
<circle cx="413.97" cy="71.07" r="2.35" fill="#000000"/>
<circle cx="414.83" cy="71.16" r="2.35" fill="#000000"/>
<circle cx="415.68" cy="71.25" r="2.35" fill="#000000"/>
<circle cx="416.52" cy="71.35" r="2.35" fill="#000000"/>
<circle cx="417.35" cy="71.45" r="2.35" fill="#000000"/>
<circle cx="418.17" cy="71.55" r="2.35" fill="#000000"/>
<circle cx="418.98" cy="71.66" r="2.35" fill="#000000"/>
<circle cx="419.78" cy="71.77" r="2.35" fill="#000000"/>
<circle cx="420.58" cy="71.88" r="2.35" fill="#000000"/>
<circle cx="421.37" cy="72.00" r="2.35" fill="#000000"/>
<circle cx="422.14" cy="72.12" r="2.35" fill="#000000"/>
<circle cx="422.91" cy="72.25" r="2.35" fill="#000000"/>
<circle cx="423.68" cy="72.39" r="2.35" fill="#000000"/>
<circle cx="424.43" cy="72.53" r="2.35" fill="#000000"/>
<circle cx="425.18" cy="72.67" r="2.35" fill="#000000"/>
<circle cx="425.92" cy="72.82" r="2.35" fill="#000000"/>
<circle cx="426.65" cy="72.98" r="2.35" fill="#000000"/>
<circle cx="427.38" cy="73.14" r="2.35" fill="#000000"/>
<circle cx="428.10" cy="73.31" r="2.35" fill="#000000"/>
<circle cx="428.81" cy="73.49" r="2.35" fill="#000000"/>
<circle cx="429.51" cy="73.67" r="2.35" fill="#000000"/>
<circle cx="430.21" cy="73.86" r="2.35" fill="#000000"/>
<circle cx="430.91" cy="74.05" r="2.35" fill="#000000"/>
<circle cx="431.59" cy="74.25" r="2.35" fill="#000000"/>
<circle cx="432.27" cy="74.47" r="2.35" fill="#000000"/>
<circle cx="432.95" cy="74.69" r="2.35" fill="#000000"/>
<circle cx="433.61" cy="74.92" r="2.35" fill="#000000"/>
<circle cx="434.27" cy="75.16" r="2.35" fill="#000000"/>
<circle cx="434.93" cy="75.42" r="2.35" fill="#000000"/>
<circle cx="435.58" cy="75.69" r="2.35" fill="#000000"/>
<circle cx="436.23" cy="75.97" r="2.35" fill="#000000"/>
<circle cx="436.87" cy="76.27" r="2.35" fill="#000000"/>
<circle cx="437.50" cy="76.58" r="2.35" fill="#000000"/>
<circle cx="438.13" cy="76.91" r="2.35" fill="#000000"/>
<circle cx="438.75" cy="77.26" r="2.35" fill="#000000"/>
<circle cx="439.37" cy="77.62" r="2.35" fill="#000000"/>
<circle cx="439.98" cy="78.00" r="2.35" fill="#000000"/>
<circle cx="440.59" cy="78.43" r="2.35" fill="#000000"/>
<circle cx="441.19" cy="78.92" r="2.35" fill="#000000"/>
<circle cx="441.79" cy="79.48" r="2.35" fill="#000000"/>
<circle cx="442.39" cy="80.10" r="2.35" fill="#000000"/>
<circle cx="442.98" cy="80.76" r="2.35" fill="#000000"/>
<circle cx="443.56" cy="81.47" r="2.35" fill="#000000"/>
<circle cx="444.14" cy="82.22" r="2.35" fill="#000000"/>
<circle cx="444.72" cy="83.00" r="2.35" fill="#000000"/>
<circle cx="445.29" cy="83.81" r="2.35" fill="#000000"/>
<circle cx="445.85" cy="84.68" r="2.35" fill="#000000"/>
<circle cx="446.42" cy="85.64" r="2.35" fill="#000000"/>
<circle cx="446.98" cy="86.72" r="2.35" fill="#000000"/>
<circle cx="447.53" cy="87.95" r="2.35" fill="#000000"/>
<circle cx="448.08" cy="89.35" r="2.35" fill="#000000"/>
<circle cx="448.63" cy="91.20" r="2.35" fill="#000000"/>
<circle cx="449.17" cy="93.49" r="2.35" fill="#000000"/>
<circle cx="449.71" cy="96.00" r="2.35" fill="#000000"/>
<circle cx="450.24" cy="98.88" r="2.35" fill="#000000"/>
<circle cx="450.77" cy="102.00" r="2.35" fill="#000000"/>
<circle cx="451.30" cy="105.10" r="2.35" fill="#000000"/>
<circle cx="451.82" cy="108.60" r="2.35" fill="#000000"/>
<circle cx="452.34" cy="113.50" r="2.35" fill="#000000"/>
<circle cx="452.86" cy="120.00" r="2.35" fill="#000000"/>
<circle cx="453.37" cy="129.00" r="2.35" fill="#000000"/>
<circle cx="453.88" cy="140.80" r="2.35" fill="#000000"/>
<circle cx="454.39" cy="156.10" r="2.35" fill="#000000"/>
<circle cx="454.89" cy="178.00" r="2.35" fill="#000000"/>
<circle cx="455.39" cy="206.30" r="2.35" fill="#000000"/>
<circle cx="455.88" cy="240.90" r="2.35" fill="#000000"/>
<circle cx="456.38" cy="275.00" r="2.35" fill="#000000"/>
<circle cx="456.87" cy="295.00" r="2.35" fill="#000000"/>
<circle cx="457.35" cy="299.00" r="2.35" fill="#000000"/>
<circle cx="457.84" cy="299.50" r="2.35" fill="#000000"/>
<circle cx="458.32" cy="299.50" r="2.35" fill="#000000"/>
<circle cx="458.79" cy="299.50" r="2.35" fill="#000000"/>
<circle cx="459.27" cy="299.50" r="2.35" fill="#000000"/>
<circle cx="459.74" cy="299.50" r="2.35" fill="#000000"/>
<circle cx="460.21" cy="299.50" r="2.35" fill="#000000"/>
<circle cx="460.67" cy="299.50" r="2.35" fill="#000000"/>
<circle cx="461.13" cy="299.50" r="2.35" fill="#000000"/>
<circle cx="461.59" cy="299.50" r="2.35" fill="#000000"/>
<circle cx="462.05" cy="299.50" r="2.35" fill="#000000"/>
<circle cx="462.50" cy="299.50" r="2.35" fill="#000000"/>
<circle cx="462.95" cy="299.50" r="2.35" fill="#000000"/>
<circle cx="463.40" cy="299.50" r="2.35" fill="#000000"/>
<circle cx="463.85" cy="299.50" r="2.35" fill="#000000"/>
<circle cx="464.29" cy="299.50" r="2.35" fill="#000000"/>
<circle cx="464.73" cy="299.50" r="2.35" fill="#000000"/>
<circle cx="465.17" cy="299.50" r="2.35" fill="#000000"/>
<circle cx="465.61" cy="299.50" r="2.35" fill="#000000"/>
<circle cx="466.04" cy="299.50" r="2.35" fill="#000000"/>
<circle cx="466.47" cy="299.50" r="2.35" fill="#000000"/>
<circle cx="466.90" cy="299.50" r="2.35" fill="#000000"/>
<circle cx="467.32" cy="299.50" r="2.35" fill="#000000"/>
<circle cx="467.75" cy="299.50" r="2.35" fill="#000000"/>
<circle cx="468.17" cy="299.50" r="2.35" fill="#000000"/>
<circle cx="468.59" cy="299.50" r="2.35" fill="#000000"/>
<circle cx="469.00" cy="299.50" r="2.35" fill="#000000"/>
<circle cx="469.42" cy="299.50" r="2.35" fill="#000000"/>
<circle cx="469.83" cy="299.50" r="2.35" fill="#000000"/>
<circle cx="470.24" cy="299.50" r="2.35" fill="#000000"/>
<circle cx="470.64" cy="299.50" r="2.35" fill="#000000"/>
<circle cx="471.05" cy="299.50" r="2.35" fill="#000000"/>
<circle cx="471.45" cy="299.50" r="2.35" fill="#000000"/>
<circle cx="471.85" cy="299.50" r="2.35" fill="#000000"/>
<circle cx="472.25" cy="299.50" r="2.35" fill="#000000"/>
<circle cx="472.65" cy="299.50" r="2.35" fill="#000000"/>
<circle cx="473.04" cy="299.50" r="2.35" fill="#000000"/>
<circle cx="473.43" cy="299.50" r="2.35" fill="#000000"/>
<circle cx="473.82" cy="299.50" r="2.35" fill="#000000"/>
<circle cx="474.21" cy="299.50" r="2.35" fill="#000000"/>
<circle cx="474.60" cy="299.50" r="2.35" fill="#000000"/>
<circle cx="474.98" cy="299.50" r="2.35" fill="#000000"/>
<circle cx="475.36" cy="299.50" r="2.35" fill="#000000"/>
<circle cx="475.75" cy="299.50" r="2.35" fill="#000000"/>
<circle cx="476.12" cy="299.50" r="2.35" fill="#000000"/>
<circle cx="476.50" cy="299.50" r="2.35" fill="#000000"/>
<circle cx="170.50" cy="274.60" r="2.35" fill="#000000"/>
<g transform="matrix(1 0 0 1.09 0 -25.147)"><text x="93.32" y="279.41">T=0.936</text></g>
</g>
<g>
<path d="M78.50 16.00L130.57 26.00L161.03 34.30L182.64 39.00L199.40 42.40L213.09 45.50L224.67 47.50L234.70 49.40L243.55 50.90L251.47 52.00L258.63 53.37L265.16 54.60L271.17 55.47L276.74 56.19L281.92 56.80L286.77 57.35L291.33 57.84L295.62 58.26L299.68 58.60L303.53 58.89L307.20 59.14L310.69 59.36L314.03 59.57L317.23 59.75L320.30 59.92L323.24 60.07L326.08 60.22L328.81 60.35L331.45 60.47L333.99 60.59L336.45 60.70L338.84 60.81L341.15 60.90L343.39 60.98L345.57 61.05L347.69 61.12L349.75 61.18L351.75 61.24L353.70 61.31L355.60 61.37L357.46 61.44L359.27 61.49L361.03 61.53L362.76 61.56L364.45 61.58L366.10 61.61L367.72 61.64L369.30 61.70L370.85 61.77L372.36 61.87L373.85 62.00L375.31 62.14L376.74 62.27L378.15 62.36L379.52 62.41L380.88 62.42L382.21 62.40L383.51 62.38L384.80 62.36L386.06 62.33L387.30 62.32L388.52 62.32L389.72 62.34L390.91 62.39L392.07 62.47L393.22 62.57L394.35 62.69L395.46 62.80L396.56 62.90L397.64 62.95L398.70 62.96L399.76 62.94L400.79 62.91L401.81 62.89L402.82 62.88L403.82 62.87L404.80 62.87L405.77 62.84L406.73 62.78L407.67 62.70L408.60 62.61L409.52 62.55L410.44 62.55L411.33 62.64L412.22 62.78L413.10 62.92L413.97 63.04L414.83 63.14L415.68 63.20L416.52 63.22L417.35 63.17L418.17 63.08L418.98 62.97L419.78 62.87L420.58 62.81L421.37 62.78L422.14 62.76L422.91 62.75L423.68 62.77L424.43 62.81L425.18 62.88L425.92 62.94L426.65 63.02L427.38 63.10L428.10 63.18L428.81 63.24L429.51 63.25L430.21 63.22L430.91 63.12L431.59 62.97L432.27 62.77L432.95 62.55L433.61 62.33L434.27 62.12L434.93 61.96L435.58 61.86L436.23 61.84L436.87 61.87L437.50 61.93L438.13 62.00L438.75 62.07L439.37 62.12L439.98 62.13L440.59 62.12L441.19 62.09L441.79 62.04L442.39 61.99L442.98 61.98L443.56 62.02L444.14 62.14L444.72 62.32L445.29 62.52L445.85 62.75L446.42 63.00L446.98 63.23L447.53 63.40L448.08 63.50L448.63 63.54L449.17 63.52L449.71 63.47L450.24 63.41L450.77 63.37L451.30 63.33L451.82 63.24L452.34 63.12L452.86 62.99L453.37 62.86L453.88 62.74L454.39 62.65L454.89 62.62L455.39 62.63L455.88 62.69L456.38 62.79L456.87 62.89L457.35 62.98L457.84 63.03L458.32 63.04L458.79 63.05L459.27 63.07L459.74 63.11L460.21 63.11L460.67 63.06L461.13 62.98L461.59 62.91L462.05 62.86L462.50 62.82L462.95 62.81L463.40 62.85L463.85 62.89L464.29 62.93L464.73 62.97L465.17 62.95L465.61 62.90L466.04 62.84L466.47 62.81L466.90 62.81L467.32 62.83L467.75 62.83L468.17 62.79L468.59 62.73L469.00 62.65L469.42 62.59L469.83 62.59L470.24 62.63L470.64 62.71L471.05 62.80L471.45 62.87L471.85 62.90L472.25 62.91L472.65 62.88L473.04 62.84L473.43 62.79L473.82 62.77L474.21 62.78L474.60 62.82L474.98 62.88L475.36 62.96L475.75 63.06L476.12 63.14L476.50 63.20" stroke="#ff4500" stroke-width="0.5" fill="none" stroke-dasharray="5.6 1 0.6 1 0.6 1"/>
<path d="M152.2 288.20H188.8" stroke="#ff4500" stroke-width="0.5" fill="none" stroke-dasharray="5.6 1 0.6 1 0.6 1"/>
<path d="M78.50 13.50L80.80 17.20H76.20z" stroke="#ff4500" stroke-width="0.55" fill="none"/>
<path d="M130.57 23.50L132.87 27.20H128.27z" stroke="#ff4500" stroke-width="0.55" fill="none"/>
<path d="M161.03 31.80L163.33 35.50H158.73z" stroke="#ff4500" stroke-width="0.55" fill="none"/>
<path d="M182.64 36.50L184.94 40.20H180.34z" stroke="#ff4500" stroke-width="0.55" fill="none"/>
<path d="M199.40 39.90L201.70 43.60H197.10z" stroke="#ff4500" stroke-width="0.55" fill="none"/>
<path d="M213.09 43.00L215.39 46.70H210.79z" stroke="#ff4500" stroke-width="0.55" fill="none"/>
<path d="M224.67 45.00L226.97 48.70H222.37z" stroke="#ff4500" stroke-width="0.55" fill="none"/>
<path d="M234.70 46.90L237.00 50.60H232.40z" stroke="#ff4500" stroke-width="0.55" fill="none"/>
<path d="M243.55 48.40L245.85 52.10H241.25z" stroke="#ff4500" stroke-width="0.55" fill="none"/>
<path d="M251.47 49.50L253.77 53.20H249.17z" stroke="#ff4500" stroke-width="0.55" fill="none"/>
<path d="M258.63 50.87L260.93 54.57H256.33z" stroke="#ff4500" stroke-width="0.55" fill="none"/>
<path d="M265.16 52.10L267.46 55.80H262.86z" stroke="#ff4500" stroke-width="0.55" fill="none"/>
<path d="M271.17 52.97L273.47 56.67H268.87z" stroke="#ff4500" stroke-width="0.55" fill="none"/>
<path d="M276.74 53.69L279.04 57.39H274.44z" stroke="#ff4500" stroke-width="0.55" fill="none"/>
<path d="M281.92 54.30L284.22 58.00H279.62z" stroke="#ff4500" stroke-width="0.55" fill="none"/>
<path d="M286.77 54.85L289.07 58.55H284.47z" stroke="#ff4500" stroke-width="0.55" fill="none"/>
<path d="M291.33 55.34L293.63 59.04H289.03z" stroke="#ff4500" stroke-width="0.55" fill="none"/>
<path d="M295.62 55.76L297.92 59.46H293.32z" stroke="#ff4500" stroke-width="0.55" fill="none"/>
<path d="M299.68 56.10L301.98 59.80H297.38z" stroke="#ff4500" stroke-width="0.55" fill="none"/>
<path d="M303.53 56.39L305.83 60.09H301.23z" stroke="#ff4500" stroke-width="0.55" fill="none"/>
<path d="M307.20 56.64L309.50 60.34H304.90z" stroke="#ff4500" stroke-width="0.55" fill="none"/>
<path d="M310.69 56.86L312.99 60.56H308.39z" stroke="#ff4500" stroke-width="0.55" fill="none"/>
<path d="M314.03 57.07L316.33 60.77H311.73z" stroke="#ff4500" stroke-width="0.55" fill="none"/>
<path d="M317.23 57.25L319.53 60.95H314.93z" stroke="#ff4500" stroke-width="0.55" fill="none"/>
<path d="M320.30 57.42L322.60 61.12H318.00z" stroke="#ff4500" stroke-width="0.55" fill="none"/>
<path d="M323.24 57.57L325.54 61.27H320.94z" stroke="#ff4500" stroke-width="0.55" fill="none"/>
<path d="M326.08 57.72L328.38 61.42H323.78z" stroke="#ff4500" stroke-width="0.55" fill="none"/>
<path d="M328.81 57.85L331.11 61.55H326.51z" stroke="#ff4500" stroke-width="0.55" fill="none"/>
<path d="M331.45 57.97L333.75 61.67H329.15z" stroke="#ff4500" stroke-width="0.55" fill="none"/>
<path d="M333.99 58.09L336.29 61.79H331.69z" stroke="#ff4500" stroke-width="0.55" fill="none"/>
<path d="M336.45 58.20L338.75 61.90H334.15z" stroke="#ff4500" stroke-width="0.55" fill="none"/>
<path d="M338.84 58.31L341.14 62.01H336.54z" stroke="#ff4500" stroke-width="0.55" fill="none"/>
<path d="M341.15 58.40L343.45 62.10H338.85z" stroke="#ff4500" stroke-width="0.55" fill="none"/>
<path d="M343.39 58.48L345.69 62.18H341.09z" stroke="#ff4500" stroke-width="0.55" fill="none"/>
<path d="M345.57 58.55L347.87 62.25H343.27z" stroke="#ff4500" stroke-width="0.55" fill="none"/>
<path d="M347.69 58.62L349.99 62.32H345.39z" stroke="#ff4500" stroke-width="0.55" fill="none"/>
<path d="M349.75 58.68L352.05 62.38H347.45z" stroke="#ff4500" stroke-width="0.55" fill="none"/>
<path d="M351.75 58.74L354.05 62.44H349.45z" stroke="#ff4500" stroke-width="0.55" fill="none"/>
<path d="M353.70 58.81L356.00 62.51H351.40z" stroke="#ff4500" stroke-width="0.55" fill="none"/>
<path d="M355.60 58.87L357.90 62.57H353.30z" stroke="#ff4500" stroke-width="0.55" fill="none"/>
<path d="M357.46 58.94L359.76 62.64H355.16z" stroke="#ff4500" stroke-width="0.55" fill="none"/>
<path d="M359.27 58.99L361.57 62.69H356.97z" stroke="#ff4500" stroke-width="0.55" fill="none"/>
<path d="M361.03 59.03L363.33 62.73H358.73z" stroke="#ff4500" stroke-width="0.55" fill="none"/>
<path d="M362.76 59.06L365.06 62.76H360.46z" stroke="#ff4500" stroke-width="0.55" fill="none"/>
<path d="M364.45 59.08L366.75 62.78H362.15z" stroke="#ff4500" stroke-width="0.55" fill="none"/>
<path d="M366.10 59.11L368.40 62.81H363.80z" stroke="#ff4500" stroke-width="0.55" fill="none"/>
<path d="M367.72 59.14L370.02 62.84H365.42z" stroke="#ff4500" stroke-width="0.55" fill="none"/>
<path d="M369.30 59.20L371.60 62.90H367.00z" stroke="#ff4500" stroke-width="0.55" fill="none"/>
<path d="M370.85 59.27L373.15 62.97H368.55z" stroke="#ff4500" stroke-width="0.55" fill="none"/>
<path d="M372.36 59.37L374.66 63.07H370.06z" stroke="#ff4500" stroke-width="0.55" fill="none"/>
<path d="M373.85 59.50L376.15 63.20H371.55z" stroke="#ff4500" stroke-width="0.55" fill="none"/>
<path d="M375.31 59.64L377.61 63.34H373.01z" stroke="#ff4500" stroke-width="0.55" fill="none"/>
<path d="M376.74 59.77L379.04 63.47H374.44z" stroke="#ff4500" stroke-width="0.55" fill="none"/>
<path d="M378.15 59.86L380.45 63.56H375.85z" stroke="#ff4500" stroke-width="0.55" fill="none"/>
<path d="M379.52 59.91L381.82 63.61H377.22z" stroke="#ff4500" stroke-width="0.55" fill="none"/>
<path d="M380.88 59.92L383.18 63.62H378.58z" stroke="#ff4500" stroke-width="0.55" fill="none"/>
<path d="M382.21 59.90L384.51 63.60H379.91z" stroke="#ff4500" stroke-width="0.55" fill="none"/>
<path d="M383.51 59.88L385.81 63.58H381.21z" stroke="#ff4500" stroke-width="0.55" fill="none"/>
<path d="M384.80 59.86L387.10 63.56H382.50z" stroke="#ff4500" stroke-width="0.55" fill="none"/>
<path d="M386.06 59.83L388.36 63.53H383.76z" stroke="#ff4500" stroke-width="0.55" fill="none"/>
<path d="M387.30 59.82L389.60 63.52H385.00z" stroke="#ff4500" stroke-width="0.55" fill="none"/>
<path d="M388.52 59.82L390.82 63.52H386.22z" stroke="#ff4500" stroke-width="0.55" fill="none"/>
<path d="M389.72 59.84L392.02 63.54H387.42z" stroke="#ff4500" stroke-width="0.55" fill="none"/>
<path d="M390.91 59.89L393.21 63.59H388.61z" stroke="#ff4500" stroke-width="0.55" fill="none"/>
<path d="M392.07 59.97L394.37 63.67H389.77z" stroke="#ff4500" stroke-width="0.55" fill="none"/>
<path d="M393.22 60.07L395.52 63.77H390.92z" stroke="#ff4500" stroke-width="0.55" fill="none"/>
<path d="M394.35 60.19L396.65 63.89H392.05z" stroke="#ff4500" stroke-width="0.55" fill="none"/>
<path d="M395.46 60.30L397.76 64.00H393.16z" stroke="#ff4500" stroke-width="0.55" fill="none"/>
<path d="M396.56 60.40L398.86 64.10H394.26z" stroke="#ff4500" stroke-width="0.55" fill="none"/>
<path d="M397.64 60.45L399.94 64.15H395.34z" stroke="#ff4500" stroke-width="0.55" fill="none"/>
<path d="M398.70 60.46L401.00 64.16H396.40z" stroke="#ff4500" stroke-width="0.55" fill="none"/>
<path d="M399.76 60.44L402.06 64.14H397.46z" stroke="#ff4500" stroke-width="0.55" fill="none"/>
<path d="M400.79 60.41L403.09 64.11H398.49z" stroke="#ff4500" stroke-width="0.55" fill="none"/>
<path d="M401.81 60.39L404.11 64.09H399.51z" stroke="#ff4500" stroke-width="0.55" fill="none"/>
<path d="M402.82 60.38L405.12 64.08H400.52z" stroke="#ff4500" stroke-width="0.55" fill="none"/>
<path d="M403.82 60.37L406.12 64.07H401.52z" stroke="#ff4500" stroke-width="0.55" fill="none"/>
<path d="M404.80 60.37L407.10 64.07H402.50z" stroke="#ff4500" stroke-width="0.55" fill="none"/>
<path d="M405.77 60.34L408.07 64.04H403.47z" stroke="#ff4500" stroke-width="0.55" fill="none"/>
<path d="M406.73 60.28L409.03 63.98H404.43z" stroke="#ff4500" stroke-width="0.55" fill="none"/>
<path d="M407.67 60.20L409.97 63.90H405.37z" stroke="#ff4500" stroke-width="0.55" fill="none"/>
<path d="M408.60 60.11L410.90 63.81H406.30z" stroke="#ff4500" stroke-width="0.55" fill="none"/>
<path d="M409.52 60.05L411.82 63.75H407.22z" stroke="#ff4500" stroke-width="0.55" fill="none"/>
<path d="M410.44 60.05L412.74 63.75H408.14z" stroke="#ff4500" stroke-width="0.55" fill="none"/>
<path d="M411.33 60.14L413.63 63.84H409.03z" stroke="#ff4500" stroke-width="0.55" fill="none"/>
<path d="M412.22 60.28L414.52 63.98H409.92z" stroke="#ff4500" stroke-width="0.55" fill="none"/>
<path d="M413.10 60.42L415.40 64.12H410.80z" stroke="#ff4500" stroke-width="0.55" fill="none"/>
<path d="M413.97 60.54L416.27 64.24H411.67z" stroke="#ff4500" stroke-width="0.55" fill="none"/>
<path d="M414.83 60.64L417.13 64.34H412.53z" stroke="#ff4500" stroke-width="0.55" fill="none"/>
<path d="M415.68 60.70L417.98 64.40H413.38z" stroke="#ff4500" stroke-width="0.55" fill="none"/>
<path d="M416.52 60.72L418.82 64.42H414.22z" stroke="#ff4500" stroke-width="0.55" fill="none"/>
<path d="M417.35 60.67L419.65 64.37H415.05z" stroke="#ff4500" stroke-width="0.55" fill="none"/>
<path d="M418.17 60.58L420.47 64.28H415.87z" stroke="#ff4500" stroke-width="0.55" fill="none"/>
<path d="M418.98 60.47L421.28 64.17H416.68z" stroke="#ff4500" stroke-width="0.55" fill="none"/>
<path d="M419.78 60.37L422.08 64.07H417.48z" stroke="#ff4500" stroke-width="0.55" fill="none"/>
<path d="M420.58 60.31L422.88 64.01H418.28z" stroke="#ff4500" stroke-width="0.55" fill="none"/>
<path d="M421.37 60.28L423.67 63.98H419.07z" stroke="#ff4500" stroke-width="0.55" fill="none"/>
<path d="M422.14 60.26L424.44 63.96H419.84z" stroke="#ff4500" stroke-width="0.55" fill="none"/>
<path d="M422.91 60.25L425.21 63.95H420.61z" stroke="#ff4500" stroke-width="0.55" fill="none"/>
<path d="M423.68 60.27L425.98 63.97H421.38z" stroke="#ff4500" stroke-width="0.55" fill="none"/>
<path d="M424.43 60.31L426.73 64.01H422.13z" stroke="#ff4500" stroke-width="0.55" fill="none"/>
<path d="M425.18 60.38L427.48 64.08H422.88z" stroke="#ff4500" stroke-width="0.55" fill="none"/>
<path d="M425.92 60.44L428.22 64.14H423.62z" stroke="#ff4500" stroke-width="0.55" fill="none"/>
<path d="M426.65 60.52L428.95 64.22H424.35z" stroke="#ff4500" stroke-width="0.55" fill="none"/>
<path d="M427.38 60.60L429.68 64.30H425.08z" stroke="#ff4500" stroke-width="0.55" fill="none"/>
<path d="M428.10 60.68L430.40 64.38H425.80z" stroke="#ff4500" stroke-width="0.55" fill="none"/>
<path d="M428.81 60.74L431.11 64.44H426.51z" stroke="#ff4500" stroke-width="0.55" fill="none"/>
<path d="M429.51 60.75L431.81 64.45H427.21z" stroke="#ff4500" stroke-width="0.55" fill="none"/>
<path d="M430.21 60.72L432.51 64.42H427.91z" stroke="#ff4500" stroke-width="0.55" fill="none"/>
<path d="M430.91 60.62L433.21 64.32H428.61z" stroke="#ff4500" stroke-width="0.55" fill="none"/>
<path d="M431.59 60.47L433.89 64.17H429.29z" stroke="#ff4500" stroke-width="0.55" fill="none"/>
<path d="M432.27 60.27L434.57 63.97H429.97z" stroke="#ff4500" stroke-width="0.55" fill="none"/>
<path d="M432.95 60.05L435.25 63.75H430.65z" stroke="#ff4500" stroke-width="0.55" fill="none"/>
<path d="M433.61 59.83L435.91 63.53H431.31z" stroke="#ff4500" stroke-width="0.55" fill="none"/>
<path d="M434.27 59.62L436.57 63.32H431.97z" stroke="#ff4500" stroke-width="0.55" fill="none"/>
<path d="M434.93 59.46L437.23 63.16H432.63z" stroke="#ff4500" stroke-width="0.55" fill="none"/>
<path d="M435.58 59.36L437.88 63.06H433.28z" stroke="#ff4500" stroke-width="0.55" fill="none"/>
<path d="M436.23 59.34L438.53 63.04H433.93z" stroke="#ff4500" stroke-width="0.55" fill="none"/>
<path d="M436.87 59.37L439.17 63.07H434.57z" stroke="#ff4500" stroke-width="0.55" fill="none"/>
<path d="M437.50 59.43L439.80 63.13H435.20z" stroke="#ff4500" stroke-width="0.55" fill="none"/>
<path d="M438.13 59.50L440.43 63.20H435.83z" stroke="#ff4500" stroke-width="0.55" fill="none"/>
<path d="M438.75 59.57L441.05 63.27H436.45z" stroke="#ff4500" stroke-width="0.55" fill="none"/>
<path d="M439.37 59.62L441.67 63.32H437.07z" stroke="#ff4500" stroke-width="0.55" fill="none"/>
<path d="M439.98 59.63L442.28 63.33H437.68z" stroke="#ff4500" stroke-width="0.55" fill="none"/>
<path d="M440.59 59.62L442.89 63.32H438.29z" stroke="#ff4500" stroke-width="0.55" fill="none"/>
<path d="M441.19 59.59L443.49 63.29H438.89z" stroke="#ff4500" stroke-width="0.55" fill="none"/>
<path d="M441.79 59.54L444.09 63.24H439.49z" stroke="#ff4500" stroke-width="0.55" fill="none"/>
<path d="M442.39 59.49L444.69 63.19H440.09z" stroke="#ff4500" stroke-width="0.55" fill="none"/>
<path d="M442.98 59.48L445.28 63.18H440.68z" stroke="#ff4500" stroke-width="0.55" fill="none"/>
<path d="M443.56 59.52L445.86 63.22H441.26z" stroke="#ff4500" stroke-width="0.55" fill="none"/>
<path d="M444.14 59.64L446.44 63.34H441.84z" stroke="#ff4500" stroke-width="0.55" fill="none"/>
<path d="M444.72 59.82L447.02 63.52H442.42z" stroke="#ff4500" stroke-width="0.55" fill="none"/>
<path d="M445.29 60.02L447.59 63.72H442.99z" stroke="#ff4500" stroke-width="0.55" fill="none"/>
<path d="M445.85 60.25L448.15 63.95H443.55z" stroke="#ff4500" stroke-width="0.55" fill="none"/>
<path d="M446.42 60.50L448.72 64.20H444.12z" stroke="#ff4500" stroke-width="0.55" fill="none"/>
<path d="M446.98 60.73L449.28 64.43H444.68z" stroke="#ff4500" stroke-width="0.55" fill="none"/>
<path d="M447.53 60.90L449.83 64.60H445.23z" stroke="#ff4500" stroke-width="0.55" fill="none"/>
<path d="M448.08 61.00L450.38 64.70H445.78z" stroke="#ff4500" stroke-width="0.55" fill="none"/>
<path d="M448.63 61.04L450.93 64.74H446.33z" stroke="#ff4500" stroke-width="0.55" fill="none"/>
<path d="M449.17 61.02L451.47 64.72H446.87z" stroke="#ff4500" stroke-width="0.55" fill="none"/>
<path d="M449.71 60.97L452.01 64.67H447.41z" stroke="#ff4500" stroke-width="0.55" fill="none"/>
<path d="M450.24 60.91L452.54 64.61H447.94z" stroke="#ff4500" stroke-width="0.55" fill="none"/>
<path d="M450.77 60.87L453.07 64.57H448.47z" stroke="#ff4500" stroke-width="0.55" fill="none"/>
<path d="M451.30 60.83L453.60 64.53H449.00z" stroke="#ff4500" stroke-width="0.55" fill="none"/>
<path d="M451.82 60.74L454.12 64.44H449.52z" stroke="#ff4500" stroke-width="0.55" fill="none"/>
<path d="M452.34 60.62L454.64 64.32H450.04z" stroke="#ff4500" stroke-width="0.55" fill="none"/>
<path d="M452.86 60.49L455.16 64.19H450.56z" stroke="#ff4500" stroke-width="0.55" fill="none"/>
<path d="M453.37 60.36L455.67 64.06H451.07z" stroke="#ff4500" stroke-width="0.55" fill="none"/>
<path d="M453.88 60.24L456.18 63.94H451.58z" stroke="#ff4500" stroke-width="0.55" fill="none"/>
<path d="M454.39 60.15L456.69 63.85H452.09z" stroke="#ff4500" stroke-width="0.55" fill="none"/>
<path d="M454.89 60.12L457.19 63.82H452.59z" stroke="#ff4500" stroke-width="0.55" fill="none"/>
<path d="M455.39 60.13L457.69 63.83H453.09z" stroke="#ff4500" stroke-width="0.55" fill="none"/>
<path d="M455.88 60.19L458.18 63.89H453.58z" stroke="#ff4500" stroke-width="0.55" fill="none"/>
<path d="M456.38 60.29L458.68 63.99H454.08z" stroke="#ff4500" stroke-width="0.55" fill="none"/>
<path d="M456.87 60.39L459.17 64.09H454.57z" stroke="#ff4500" stroke-width="0.55" fill="none"/>
<path d="M457.35 60.48L459.65 64.18H455.05z" stroke="#ff4500" stroke-width="0.55" fill="none"/>
<path d="M457.84 60.53L460.14 64.23H455.54z" stroke="#ff4500" stroke-width="0.55" fill="none"/>
<path d="M458.32 60.54L460.62 64.24H456.02z" stroke="#ff4500" stroke-width="0.55" fill="none"/>
<path d="M458.79 60.55L461.09 64.25H456.49z" stroke="#ff4500" stroke-width="0.55" fill="none"/>
<path d="M459.27 60.57L461.57 64.27H456.97z" stroke="#ff4500" stroke-width="0.55" fill="none"/>
<path d="M459.74 60.61L462.04 64.31H457.44z" stroke="#ff4500" stroke-width="0.55" fill="none"/>
<path d="M460.21 60.61L462.51 64.31H457.91z" stroke="#ff4500" stroke-width="0.55" fill="none"/>
<path d="M460.67 60.56L462.97 64.26H458.37z" stroke="#ff4500" stroke-width="0.55" fill="none"/>
<path d="M461.13 60.48L463.43 64.18H458.83z" stroke="#ff4500" stroke-width="0.55" fill="none"/>
<path d="M461.59 60.41L463.89 64.11H459.29z" stroke="#ff4500" stroke-width="0.55" fill="none"/>
<path d="M462.05 60.36L464.35 64.06H459.75z" stroke="#ff4500" stroke-width="0.55" fill="none"/>
<path d="M462.50 60.32L464.80 64.02H460.20z" stroke="#ff4500" stroke-width="0.55" fill="none"/>
<path d="M462.95 60.31L465.25 64.01H460.65z" stroke="#ff4500" stroke-width="0.55" fill="none"/>
<path d="M463.40 60.35L465.70 64.05H461.10z" stroke="#ff4500" stroke-width="0.55" fill="none"/>
<path d="M463.85 60.39L466.15 64.09H461.55z" stroke="#ff4500" stroke-width="0.55" fill="none"/>
<path d="M464.29 60.43L466.59 64.13H461.99z" stroke="#ff4500" stroke-width="0.55" fill="none"/>
<path d="M464.73 60.47L467.03 64.17H462.43z" stroke="#ff4500" stroke-width="0.55" fill="none"/>
<path d="M465.17 60.45L467.47 64.15H462.87z" stroke="#ff4500" stroke-width="0.55" fill="none"/>
<path d="M465.61 60.40L467.91 64.10H463.31z" stroke="#ff4500" stroke-width="0.55" fill="none"/>
<path d="M466.04 60.34L468.34 64.04H463.74z" stroke="#ff4500" stroke-width="0.55" fill="none"/>
<path d="M466.47 60.31L468.77 64.01H464.17z" stroke="#ff4500" stroke-width="0.55" fill="none"/>
<path d="M466.90 60.31L469.20 64.01H464.60z" stroke="#ff4500" stroke-width="0.55" fill="none"/>
<path d="M467.32 60.33L469.62 64.03H465.02z" stroke="#ff4500" stroke-width="0.55" fill="none"/>
<path d="M467.75 60.33L470.05 64.03H465.45z" stroke="#ff4500" stroke-width="0.55" fill="none"/>
<path d="M468.17 60.29L470.47 63.99H465.87z" stroke="#ff4500" stroke-width="0.55" fill="none"/>
<path d="M468.59 60.23L470.89 63.93H466.29z" stroke="#ff4500" stroke-width="0.55" fill="none"/>
<path d="M469.00 60.15L471.30 63.85H466.70z" stroke="#ff4500" stroke-width="0.55" fill="none"/>
<path d="M469.42 60.09L471.72 63.79H467.12z" stroke="#ff4500" stroke-width="0.55" fill="none"/>
<path d="M469.83 60.09L472.13 63.79H467.53z" stroke="#ff4500" stroke-width="0.55" fill="none"/>
<path d="M470.24 60.13L472.54 63.83H467.94z" stroke="#ff4500" stroke-width="0.55" fill="none"/>
<path d="M470.64 60.21L472.94 63.91H468.34z" stroke="#ff4500" stroke-width="0.55" fill="none"/>
<path d="M471.05 60.30L473.35 64.00H468.75z" stroke="#ff4500" stroke-width="0.55" fill="none"/>
<path d="M471.45 60.37L473.75 64.07H469.15z" stroke="#ff4500" stroke-width="0.55" fill="none"/>
<path d="M471.85 60.40L474.15 64.10H469.55z" stroke="#ff4500" stroke-width="0.55" fill="none"/>
<path d="M472.25 60.41L474.55 64.11H469.95z" stroke="#ff4500" stroke-width="0.55" fill="none"/>
<path d="M472.65 60.38L474.95 64.08H470.35z" stroke="#ff4500" stroke-width="0.55" fill="none"/>
<path d="M473.04 60.34L475.34 64.04H470.74z" stroke="#ff4500" stroke-width="0.55" fill="none"/>
<path d="M473.43 60.29L475.73 63.99H471.13z" stroke="#ff4500" stroke-width="0.55" fill="none"/>
<path d="M473.82 60.27L476.12 63.97H471.52z" stroke="#ff4500" stroke-width="0.55" fill="none"/>
<path d="M474.21 60.28L476.51 63.98H471.91z" stroke="#ff4500" stroke-width="0.55" fill="none"/>
<path d="M474.60 60.32L476.90 64.02H472.30z" stroke="#ff4500" stroke-width="0.55" fill="none"/>
<path d="M474.98 60.38L477.28 64.08H472.68z" stroke="#ff4500" stroke-width="0.55" fill="none"/>
<path d="M475.36 60.46L477.66 64.16H473.06z" stroke="#ff4500" stroke-width="0.55" fill="none"/>
<path d="M475.75 60.56L478.05 64.26H473.45z" stroke="#ff4500" stroke-width="0.55" fill="none"/>
<path d="M476.12 60.64L478.42 64.34H473.82z" stroke="#ff4500" stroke-width="0.55" fill="none"/>
<path d="M476.50 60.70L478.80 64.40H474.20z" stroke="#ff4500" stroke-width="0.55" fill="none"/>
<path d="M170.50 285.70L172.80 289.40H168.20z" stroke="#ff4500" stroke-width="0.55" fill="none"/>
<g transform="matrix(1 0 0 1.09 0 -26.371)"><text x="93.32" y="293.01">T=0.934</text></g>
</g>
<rect x="78.5" y="16.0" width="398.0" height="283.5" fill="none" stroke="#000" stroke-width="1"/>
</svg>
</body></html>
